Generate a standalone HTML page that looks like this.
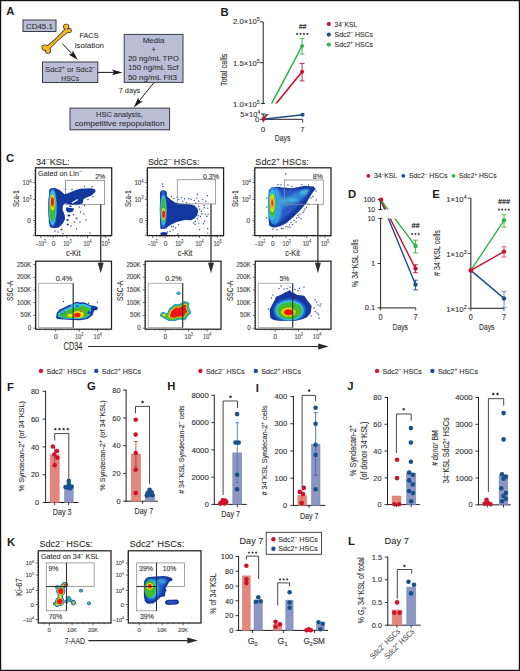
<!DOCTYPE html>
<html><head><meta charset="utf-8"><style>
html,body{margin:0;padding:0;background:#fff;}
svg{display:block;}
text{font-family:"Liberation Sans",sans-serif;}
</style></head><body>
<svg width="520" height="671" viewBox="0 0 520 671" font-family="Liberation Sans, sans-serif" fill="#231f20">
<defs><filter id="sb" x="-20%" y="-20%" width="140%" height="140%"><feGaussianBlur stdDeviation="0.9"/></filter></defs>
<rect x="0" y="0" width="520" height="671" fill="#fff"/>
<text x="6.2" y="15" font-size="11.3" font-weight="bold">A</text>
<rect x="23" y="20" width="33" height="11.5" fill="#b9bed6" stroke="#3c3c46" stroke-width="1.0" />
<text x="39.4" y="28.61" font-size="7.8" fill="#2e2e2e" stroke="#2e2e2e" stroke-width="0.08" text-anchor="middle" textLength="27" lengthAdjust="spacingAndGlyphs">CD45.1</text>
<g fill="#1d1d2b" stroke="#1d1d2b" stroke-width="1.3" stroke-linejoin="round"><path d="M47.82,50.32 Q57.3,39.52 68.82,30.92 L66.38,28.28 Q56.9,39.08 45.38,47.68 Z"/><circle cx="66.2" cy="26.7" r="2.4"/><circle cx="69.4" cy="30.5" r="1.8"/><circle cx="44.7" cy="47.6" r="2.5"/><circle cx="48.0" cy="50.7" r="2.3"/></g>
<g fill="#f6b924"><path d="M47.82,50.32 Q57.3,39.52 68.82,30.92 L66.38,28.28 Q56.9,39.08 45.38,47.68 Z"/><circle cx="66.2" cy="26.7" r="2.4"/><circle cx="69.4" cy="30.5" r="1.8"/><circle cx="44.7" cy="47.6" r="2.5"/><circle cx="48.0" cy="50.7" r="2.3"/></g>
<text x="89" y="37.88" font-size="8" fill="#2e2e2e" stroke="#2e2e2e" stroke-width="0.08" text-anchor="middle" textLength="19.2" lengthAdjust="spacingAndGlyphs">FACS</text>
<text x="89.4" y="47.88" font-size="8" fill="#2e2e2e" stroke="#2e2e2e" stroke-width="0.08" text-anchor="middle" textLength="29.2" lengthAdjust="spacingAndGlyphs">isolation</text>
<line x1="62.3" y1="43.6" x2="72.11" y2="53.91" stroke="#1a1a1a" stroke-width="1.0" />
<path d="M77.9,60 L68.56,54.39 L72.11,53.91 L72.76,50.39 Z" fill="#1a1a1a"/>
<rect x="42.5" y="62" width="55.3" height="20.5" fill="#b9bed6" stroke="#3c3c46" stroke-width="1.0" />
<text x="70.3" y="72.24" font-size="7.9" fill="#2e2e2e" stroke="#2e2e2e" stroke-width="0.08" text-anchor="middle" textLength="50" lengthAdjust="spacingAndGlyphs">Sdc2<tspan dy="-3.16" font-size="5.37" stroke-width="0.1">+</tspan><tspan dy="3.16">​</tspan> or Sdc2<tspan dy="-3.16" font-size="5.37" stroke-width="0.1">–</tspan><tspan dy="3.16">​</tspan></text>
<text x="70.2" y="80.84" font-size="7.9" fill="#2e2e2e" stroke="#2e2e2e" stroke-width="0.08" text-anchor="middle" textLength="17.7" lengthAdjust="spacingAndGlyphs">HSCs</text>
<line x1="97.8" y1="72.4" x2="114.1" y2="72.4" stroke="#1a1a1a" stroke-width="1.0" />
<path d="M122.5,72.4 L112,75.3 L114.1,72.4 L112,69.5 Z" fill="#1a1a1a"/>
<rect x="124.2" y="34.4" width="58.8" height="48" fill="#b9bed6" stroke="#3c3c46" stroke-width="1.0" />
<text x="153.5" y="43.48" font-size="8" fill="#2e2e2e" stroke="#2e2e2e" stroke-width="0.08" text-anchor="middle" textLength="21.7" lengthAdjust="spacingAndGlyphs">Media</text>
<text x="153.5" y="52.28" font-size="8" fill="#2e2e2e" stroke="#2e2e2e" stroke-width="0.08" text-anchor="middle">+</text>
<text x="153.4" y="60.88" font-size="8" fill="#2e2e2e" stroke="#2e2e2e" stroke-width="0.08" text-anchor="middle" textLength="50.9" lengthAdjust="spacingAndGlyphs">20 ng/mL TPO</text>
<text x="153.2" y="70.18" font-size="8" fill="#2e2e2e" stroke="#2e2e2e" stroke-width="0.08" text-anchor="middle" textLength="50.6" lengthAdjust="spacingAndGlyphs">150 ng/mL Scf</text>
<text x="152.4" y="79.58" font-size="8" fill="#2e2e2e" stroke="#2e2e2e" stroke-width="0.08" text-anchor="middle" textLength="49" lengthAdjust="spacingAndGlyphs">50 ng/mL Flt3</text>
<text x="129.5" y="93.04" font-size="7.9" fill="#2e2e2e" stroke="#2e2e2e" stroke-width="0.08" text-anchor="middle" textLength="21.6" lengthAdjust="spacingAndGlyphs">7 days</text>
<line x1="153.9" y1="82.7" x2="139.08" y2="101.06" stroke="#1a1a1a" stroke-width="1.0" />
<path d="M133.8,107.6 L138.14,97.61 L139.08,101.06 L142.65,101.25 Z" fill="#1a1a1a"/>
<rect x="70" y="108.1" width="99.6" height="21.7" fill="#b9bed6" stroke="#3c3c46" stroke-width="1.0" />
<text x="119.4" y="117.02" font-size="8.1" fill="#2e2e2e" stroke="#2e2e2e" stroke-width="0.08" text-anchor="middle" textLength="46.6" lengthAdjust="spacingAndGlyphs">HSC analysis,</text>
<text x="119.6" y="126.32" font-size="8.1" fill="#2e2e2e" stroke="#2e2e2e" stroke-width="0.08" text-anchor="middle" textLength="89.9" lengthAdjust="spacingAndGlyphs">competitive repopulation</text>
<text x="220.5" y="16.1" font-size="11.3" font-weight="bold">B</text>
<line x1="263.2" y1="21.9" x2="263.2" y2="103.5" stroke="#231f20" stroke-width="1.0" />
<line x1="260" y1="21.9" x2="263.2" y2="21.9" stroke="#231f20" stroke-width="0.9" />
<line x1="260" y1="62.7" x2="263.2" y2="62.7" stroke="#231f20" stroke-width="0.9" />
<line x1="261" y1="103.5" x2="265" y2="103.5" stroke="#231f20" stroke-width="0.9" />
<line x1="263.2" y1="114" x2="263.2" y2="119.3" stroke="#231f20" stroke-width="1.0" />
<line x1="261" y1="114" x2="265" y2="114" stroke="#231f20" stroke-width="0.9" />
<line x1="260" y1="119.3" x2="263.2" y2="119.3" stroke="#231f20" stroke-width="0.9" />
<line x1="263.2" y1="119.3" x2="302.6" y2="119.3" stroke="#231f20" stroke-width="1.0" />
<line x1="302.6" y1="119.3" x2="302.6" y2="122.5" stroke="#231f20" stroke-width="0.9" />
<line x1="263.2" y1="119.3" x2="263.2" y2="122.5" stroke="#231f20" stroke-width="0.9" />
<text x="259.6" y="24.14" font-size="7.6" text-anchor="end" textLength="26.6" lengthAdjust="spacingAndGlyphs" fill="#333" stroke="#333" stroke-width="0.12">2.0×10<tspan dy="-3.04" font-size="5.17" stroke-width="0.1">5</tspan><tspan dy="3.04">​</tspan></text>
<text x="259.6" y="65.64" font-size="7.6" text-anchor="end" textLength="26.6" lengthAdjust="spacingAndGlyphs" fill="#333" stroke="#333" stroke-width="0.12">1.5×10<tspan dy="-3.04" font-size="5.17" stroke-width="0.1">5</tspan><tspan dy="3.04">​</tspan></text>
<text x="259.6" y="107.04" font-size="7.6" text-anchor="end" textLength="26.6" lengthAdjust="spacingAndGlyphs" fill="#333" stroke="#333" stroke-width="0.12">1.0×10<tspan dy="-3.04" font-size="5.17" stroke-width="0.1">5</tspan><tspan dy="3.04">​</tspan></text>
<text x="260.3" y="116.54" font-size="7.6" text-anchor="end" textLength="20" lengthAdjust="spacingAndGlyphs" fill="#333" stroke="#333" stroke-width="0.12">5×10<tspan dy="-3.04" font-size="5.17" stroke-width="0.1">4</tspan><tspan dy="3.04">​</tspan></text>
<text x="259.2" y="122.04" font-size="7.6" text-anchor="end" fill="#333" stroke="#333" stroke-width="0.12">0</text>
<text x="263.2" y="131.94" font-size="7.6" text-anchor="middle" fill="#333" stroke="#333" stroke-width="0.12">0</text>
<text x="302.3" y="131.94" font-size="7.6" text-anchor="middle" fill="#333" stroke="#333" stroke-width="0.12">7</text>
<text x="282.6" y="141.11" font-size="9.2" text-anchor="middle" textLength="15.6" lengthAdjust="spacingAndGlyphs" fill="#333" stroke="#333" stroke-width="0.12">Days</text>
<text x="69.9" y="0" font-size="9.5" text-anchor="middle" textLength="32.3" lengthAdjust="spacingAndGlyphs" fill="#333" stroke="#333" stroke-width="0.12" transform="translate(227.02 69.9) rotate(-90) translate(-69.9 0)">Total cells</text>
<clipPath id="cbU"><rect x="263" y="10" width="60" height="93.5"/></clipPath>
<clipPath id="cbL"><rect x="263" y="114" width="60" height="8"/></clipPath>
<g clip-path="url(#cbU)" stroke-width="1.6" fill="none"><line x1="263.3" y1="119.3" x2="302.1" y2="46" stroke="#2fb543"/><line x1="263.3" y1="119.3" x2="302.1" y2="71.8" stroke="#c8102e"/></g>
<g clip-path="url(#cbL)" stroke-width="1.6" fill="none"><line x1="263.3" y1="119.3" x2="302.1" y2="46" stroke="#2fb543"/><line x1="263.3" y1="119.3" x2="302.1" y2="71.8" stroke="#c8102e"/></g>
<line x1="263.3" y1="119.3" x2="302.6" y2="114.7" stroke="#1a4f8b" stroke-width="1.6" />
<line x1="302.1" y1="38.4" x2="302.1" y2="54" stroke="#3cb64a" stroke-width="0.9" />
<line x1="299.7" y1="38.4" x2="304.5" y2="38.4" stroke="#3cb64a" stroke-width="0.9" />
<line x1="299.7" y1="54" x2="304.5" y2="54" stroke="#3cb64a" stroke-width="0.9" />
<line x1="302.1" y1="63.4" x2="302.1" y2="80.9" stroke="#c8102e" stroke-width="0.9" />
<line x1="299.7" y1="63.4" x2="304.5" y2="63.4" stroke="#c8102e" stroke-width="0.9" />
<line x1="299.7" y1="80.9" x2="304.5" y2="80.9" stroke="#c8102e" stroke-width="0.9" />
<circle cx="302.1" cy="46" r="2" fill="#2fb543"/>
<circle cx="302.1" cy="71.8" r="2" fill="#c8102e"/>
<circle cx="302.6" cy="114.7" r="2" fill="#1a4f8b"/>
<circle cx="263.5" cy="119" r="2" fill="#c8102e"/>
<text x="302.5" y="28.6" font-size="6.8" font-style="italic" text-anchor="middle" textLength="7.6" lengthAdjust="spacingAndGlyphs" fill="#333" stroke="#333" stroke-width="0.2">##</text>
<path d="M297.19,32.54 L297.61,33.37 L298.53,33.51 L297.86,34.16 L298.02,35.07 L297.19,34.64 L296.37,35.07 L296.53,34.16 L295.86,33.51 L296.78,33.37 Z" fill="#2a2a2a"/>
<path d="M300.56,32.54 L300.98,33.37 L301.9,33.51 L301.23,34.16 L301.39,35.07 L300.56,34.64 L299.74,35.07 L299.9,34.16 L299.23,33.51 L300.15,33.37 Z" fill="#2a2a2a"/>
<path d="M303.94,32.54 L304.35,33.37 L305.27,33.51 L304.6,34.16 L304.76,35.07 L303.94,34.64 L303.11,35.07 L303.27,34.16 L302.6,33.51 L303.52,33.37 Z" fill="#2a2a2a"/>
<path d="M307.31,32.54 L307.72,33.37 L308.64,33.51 L307.97,34.16 L308.13,35.07 L307.31,34.64 L306.48,35.07 L306.64,34.16 L305.97,33.51 L306.89,33.37 Z" fill="#2a2a2a"/>
<circle cx="328.8" cy="24" r="2.1" fill="#c8102e"/>
<text x="334.6" y="26.59" font-size="7.2" textLength="22.6" lengthAdjust="spacingAndGlyphs" fill="#333" stroke="#333" stroke-width="0.12">34<tspan dy="-2.88" font-size="4.9" stroke-width="0.1">–</tspan><tspan dy="2.88">​</tspan>KSL</text>
<circle cx="328.8" cy="34.6" r="2.1" fill="#1a4f8b"/>
<text x="334.6" y="37.19" font-size="7.2" textLength="38.5" lengthAdjust="spacingAndGlyphs" fill="#333" stroke="#333" stroke-width="0.12">Sdc2<tspan dy="-2.88" font-size="4.9" stroke-width="0.1">–</tspan><tspan dy="2.88">​</tspan> HSCs</text>
<circle cx="328.8" cy="44.6" r="2.1" fill="#3cb64a"/>
<text x="334.6" y="47.19" font-size="7.2" textLength="38.5" lengthAdjust="spacingAndGlyphs" fill="#333" stroke="#333" stroke-width="0.12">Sdc2<tspan dy="-2.88" font-size="4.9" stroke-width="0.1">+</tspan><tspan dy="2.88">​</tspan> HSCs</text>
<text x="6.1" y="162.4" font-size="11.3" font-weight="bold">C</text>
<text x="36" y="164.54" font-size="9" textLength="33.6" lengthAdjust="spacingAndGlyphs" stroke="#231f20" stroke-width="0.05">34<tspan dy="-3.6" font-size="6.12" stroke-width="0.1">–</tspan><tspan dy="3.6">​</tspan>KSL:</text>
<line x1="33.1" y1="182.6" x2="35.5" y2="182.6" stroke="#231f20" stroke-width="0.7" />
<line x1="33.1" y1="199.4" x2="35.5" y2="199.4" stroke="#231f20" stroke-width="0.7" />
<line x1="33.1" y1="220.6" x2="35.5" y2="220.6" stroke="#231f20" stroke-width="0.7" />
<line x1="33.1" y1="235.2" x2="35.5" y2="235.2" stroke="#231f20" stroke-width="0.7" />
<line x1="34.1" y1="170.5" x2="35.5" y2="170.5" stroke="#231f20" stroke-width="0.5" />
<line x1="34.1" y1="173.5" x2="35.5" y2="173.5" stroke="#231f20" stroke-width="0.5" />
<line x1="34.1" y1="176" x2="35.5" y2="176" stroke="#231f20" stroke-width="0.5" />
<line x1="34.1" y1="178.2" x2="35.5" y2="178.2" stroke="#231f20" stroke-width="0.5" />
<line x1="34.1" y1="180.5" x2="35.5" y2="180.5" stroke="#231f20" stroke-width="0.5" />
<line x1="34.1" y1="187.5" x2="35.5" y2="187.5" stroke="#231f20" stroke-width="0.5" />
<line x1="34.1" y1="190.5" x2="35.5" y2="190.5" stroke="#231f20" stroke-width="0.5" />
<line x1="34.1" y1="193" x2="35.5" y2="193" stroke="#231f20" stroke-width="0.5" />
<line x1="34.1" y1="195.2" x2="35.5" y2="195.2" stroke="#231f20" stroke-width="0.5" />
<line x1="34.1" y1="197.4" x2="35.5" y2="197.4" stroke="#231f20" stroke-width="0.5" />
<line x1="34.1" y1="205" x2="35.5" y2="205" stroke="#231f20" stroke-width="0.5" />
<line x1="34.1" y1="209" x2="35.5" y2="209" stroke="#231f20" stroke-width="0.5" />
<line x1="34.1" y1="212.5" x2="35.5" y2="212.5" stroke="#231f20" stroke-width="0.5" />
<line x1="34.1" y1="216" x2="35.5" y2="216" stroke="#231f20" stroke-width="0.5" />
<line x1="34.1" y1="218.5" x2="35.5" y2="218.5" stroke="#231f20" stroke-width="0.5" />
<line x1="34.1" y1="222.5" x2="35.5" y2="222.5" stroke="#231f20" stroke-width="0.5" />
<line x1="34.1" y1="224.5" x2="35.5" y2="224.5" stroke="#231f20" stroke-width="0.5" />
<line x1="34.1" y1="227" x2="35.5" y2="227" stroke="#231f20" stroke-width="0.5" />
<line x1="34.1" y1="230" x2="35.5" y2="230" stroke="#231f20" stroke-width="0.5" />
<line x1="34.1" y1="232.5" x2="35.5" y2="232.5" stroke="#231f20" stroke-width="0.5" />
<text x="31.6" y="185.48" font-size="6.6" text-anchor="end" textLength="9" lengthAdjust="spacingAndGlyphs" fill="#444" stroke="#444" stroke-width="0.12">10<tspan dy="-2.64" font-size="4.49" stroke-width="0.1">4</tspan><tspan dy="2.64">​</tspan></text>
<text x="31.6" y="201.98" font-size="6.6" text-anchor="end" textLength="9" lengthAdjust="spacingAndGlyphs" fill="#444" stroke="#444" stroke-width="0.12">10<tspan dy="-2.64" font-size="4.49" stroke-width="0.1">3</tspan><tspan dy="2.64">​</tspan></text>
<text x="30.9" y="223.18" font-size="6.6" text-anchor="end" fill="#444" stroke="#444" stroke-width="0.12">0</text>
<text x="198.6" y="0" font-size="9.6" text-anchor="middle" textLength="16.8" lengthAdjust="spacingAndGlyphs" fill="#333" stroke="#333" stroke-width="0.1" transform="translate(18.76 198.6) rotate(-90) translate(-198.6 0)">Sca-1</text>
<line x1="40.8" y1="235.6" x2="40.8" y2="238" stroke="#231f20" stroke-width="0.7" />
<line x1="53.3" y1="235.6" x2="53.3" y2="238" stroke="#231f20" stroke-width="0.7" />
<line x1="66.8" y1="235.6" x2="66.8" y2="238" stroke="#231f20" stroke-width="0.7" />
<line x1="87.5" y1="235.6" x2="87.5" y2="238" stroke="#231f20" stroke-width="0.7" />
<line x1="105.8" y1="235.6" x2="105.8" y2="238" stroke="#231f20" stroke-width="0.7" />
<line x1="44.5" y1="235.6" x2="44.5" y2="237" stroke="#231f20" stroke-width="0.5" />
<line x1="47" y1="235.6" x2="47" y2="237" stroke="#231f20" stroke-width="0.5" />
<line x1="49" y1="235.6" x2="49" y2="237" stroke="#231f20" stroke-width="0.5" />
<line x1="51" y1="235.6" x2="51" y2="237" stroke="#231f20" stroke-width="0.5" />
<line x1="55.5" y1="235.6" x2="55.5" y2="237" stroke="#231f20" stroke-width="0.5" />
<line x1="57.5" y1="235.6" x2="57.5" y2="237" stroke="#231f20" stroke-width="0.5" />
<line x1="60" y1="235.6" x2="60" y2="237" stroke="#231f20" stroke-width="0.5" />
<line x1="62.5" y1="235.6" x2="62.5" y2="237" stroke="#231f20" stroke-width="0.5" />
<line x1="73.5" y1="235.6" x2="73.5" y2="237" stroke="#231f20" stroke-width="0.5" />
<line x1="77.5" y1="235.6" x2="77.5" y2="237" stroke="#231f20" stroke-width="0.5" />
<line x1="80.5" y1="235.6" x2="80.5" y2="237" stroke="#231f20" stroke-width="0.5" />
<line x1="83" y1="235.6" x2="83" y2="237" stroke="#231f20" stroke-width="0.5" />
<line x1="85" y1="235.6" x2="85" y2="237" stroke="#231f20" stroke-width="0.5" />
<line x1="94" y1="235.6" x2="94" y2="237" stroke="#231f20" stroke-width="0.5" />
<line x1="98" y1="235.6" x2="98" y2="237" stroke="#231f20" stroke-width="0.5" />
<line x1="101" y1="235.6" x2="101" y2="237" stroke="#231f20" stroke-width="0.5" />
<line x1="103" y1="235.6" x2="103" y2="237" stroke="#231f20" stroke-width="0.5" />
<line x1="104.5" y1="235.6" x2="104.5" y2="237" stroke="#231f20" stroke-width="0.5" />
<line x1="108.5" y1="235.6" x2="108.5" y2="237" stroke="#231f20" stroke-width="0.5" />
<line x1="110.5" y1="235.6" x2="110.5" y2="237" stroke="#231f20" stroke-width="0.5" />
<text x="40.8" y="245.74" font-size="6.5" text-anchor="middle" textLength="10" lengthAdjust="spacingAndGlyphs" fill="#444" stroke="#444" stroke-width="0.12">–10<tspan dy="-2.6" font-size="4.42" stroke-width="0.1">3</tspan><tspan dy="2.6">​</tspan></text>
<text x="53.6" y="245.74" font-size="6.5" text-anchor="middle" fill="#444" stroke="#444" stroke-width="0.12">0</text>
<text x="67.4" y="245.74" font-size="6.5" text-anchor="middle" textLength="8.2" lengthAdjust="spacingAndGlyphs" fill="#444" stroke="#444" stroke-width="0.12">10<tspan dy="-2.6" font-size="4.42" stroke-width="0.1">3</tspan><tspan dy="2.6">​</tspan></text>
<text x="87.6" y="245.74" font-size="6.5" text-anchor="middle" textLength="8.2" lengthAdjust="spacingAndGlyphs" fill="#444" stroke="#444" stroke-width="0.12">10<tspan dy="-2.6" font-size="4.42" stroke-width="0.1">4</tspan><tspan dy="2.6">​</tspan></text>
<text x="105.7" y="245.74" font-size="6.5" text-anchor="middle" textLength="8.2" lengthAdjust="spacingAndGlyphs" fill="#444" stroke="#444" stroke-width="0.12">10<tspan dy="-2.6" font-size="4.42" stroke-width="0.1">5</tspan><tspan dy="2.6">​</tspan></text>
<text x="73.2" y="256.38" font-size="9.4" text-anchor="middle" textLength="14.6" lengthAdjust="spacingAndGlyphs" fill="#333" stroke="#333" stroke-width="0.12">c-Kit</text>
<text x="38" y="175.63" font-size="7.3" textLength="43.6" lengthAdjust="spacingAndGlyphs" fill="#3a3a3a" stroke="#3a3a3a" stroke-width="0.12">Gated on Lin<tspan dy="-2.92" font-size="4.96" stroke-width="0.1">–</tspan><tspan dy="2.92">​</tspan></text>
<rect x="65.6" y="180.5" width="39" height="24" fill="none" stroke="#8a8a8a" stroke-width="0.8" />
<path d="M49.2,190 C49.5,187.6 55,187.2 57.5,189 L60.5,190.8 L64.5,194.2 L68,193.2 L72,191.6 L76,190 L80,188.8 L85,188.4 L91.5,188.2 L95.6,189.8 L95.3,192 L91.5,195.6 L86.5,197.5 L83.6,199 L82.6,203.6 L76.7,204.7 L70,204.4 L65.1,203.3 L63,205.5 L62.5,209.4 L64.6,214.7 L65.1,219 L63,223.2 L58.8,227.4 L54,228.3 L50,227.2 L48.8,222 L48.7,200 Z" fill="#13379f"/>
<path d="M66.2,207.3 L74.1,208.6 L72.5,212 L67.8,212.4 L65.8,210 Z" fill="#13379f"/>
<path d="M71.5,202.6 L77.3,198.9 L78,200 L72.5,203.5 Z" fill="#fff"/>
<ellipse cx="69" cy="215.5" rx="1.6" ry="1" fill="#13379f"/>
<ellipse cx="67.5" cy="220" rx="1.2" ry="1" fill="#13379f"/>
<ellipse cx="67.8" cy="224.5" rx="1.1" ry="0.9" fill="#13379f"/>
<ellipse cx="61.5" cy="229.5" rx="1.2" ry="0.8" fill="#13379f"/>
<ellipse cx="70.5" cy="206.3" rx="1.5" ry="0.7" fill="#13379f"/>
<circle cx="58" cy="232" r="0.7" fill="#2440a0"/>
<circle cx="63" cy="233.5" r="0.7" fill="#2440a0"/>
<circle cx="73.5" cy="214.5" r="0.7" fill="#2440a0"/>
<circle cx="76" cy="218" r="0.7" fill="#2440a0"/>
<circle cx="80" cy="222" r="0.7" fill="#2440a0"/>
<circle cx="84" cy="214" r="0.7" fill="#2440a0"/>
<circle cx="86" cy="220" r="0.7" fill="#2440a0"/>
<circle cx="80.5" cy="212" r="0.7" fill="#2440a0"/>
<circle cx="90" cy="233" r="0.7" fill="#2440a0"/>
<circle cx="72" cy="189.5" r="0.7" fill="#2440a0"/>
<circle cx="65.5" cy="189" r="0.7" fill="#2440a0"/>
<circle cx="84.5" cy="186.5" r="0.7" fill="#2440a0"/>
<circle cx="92" cy="186.5" r="0.7" fill="#2440a0"/>
<circle cx="77" cy="218.5" r="0.7" fill="#2440a0"/>
<circle cx="74.5" cy="222" r="0.7" fill="#2440a0"/>
<circle cx="88" cy="199.5" r="0.7" fill="#2440a0"/>
<circle cx="93" cy="196.5" r="0.7" fill="#2440a0"/>
<circle cx="79.5" cy="207" r="0.7" fill="#2440a0"/>
<circle cx="84.5" cy="205.5" r="0.7" fill="#2440a0"/>
<circle cx="71" cy="226" r="0.7" fill="#2440a0"/>
<circle cx="76.5" cy="229" r="0.7" fill="#2440a0"/>
<circle cx="55" cy="231" r="0.7" fill="#2440a0"/>
<circle cx="52.5" cy="173" r="0.7" fill="#2440a0"/>
<ellipse cx="52.6" cy="207.5" rx="4.6" ry="19.6" fill="#1f60d4"/>
<ellipse cx="52.6" cy="207.5" rx="3.9" ry="17.6" fill="#2ec4ee"/>
<ellipse cx="52.5" cy="208" rx="3" ry="14" fill="#45bb2c"/>
<ellipse cx="52.5" cy="202.5" rx="2.3" ry="8" fill="#f3e300"/>
<ellipse cx="52.5" cy="202" rx="1.8" ry="6" fill="#f89a10"/>
<ellipse cx="52.4" cy="201.8" rx="1.4" ry="4.3" fill="#f01414"/>
<text x="100.2" y="178.79" font-size="7.2" text-anchor="middle" textLength="10" lengthAdjust="spacingAndGlyphs" fill="#333" stroke="#333" stroke-width="0.12">2%</text>
<rect x="35.5" y="167.8" width="76.2" height="67.8" fill="none" stroke="#231f20" stroke-width="1.25" />
<text x="147.9" y="164.54" font-size="9" textLength="51.5" lengthAdjust="spacingAndGlyphs" stroke="#231f20" stroke-width="0.05">Sdc2<tspan dy="-3.6" font-size="6.12" stroke-width="0.1">–</tspan><tspan dy="3.6">​</tspan> HSCs:</text>
<line x1="145" y1="182.6" x2="147.4" y2="182.6" stroke="#231f20" stroke-width="0.7" />
<line x1="145" y1="199.4" x2="147.4" y2="199.4" stroke="#231f20" stroke-width="0.7" />
<line x1="145" y1="220.6" x2="147.4" y2="220.6" stroke="#231f20" stroke-width="0.7" />
<line x1="145" y1="235.2" x2="147.4" y2="235.2" stroke="#231f20" stroke-width="0.7" />
<line x1="146" y1="170.5" x2="147.4" y2="170.5" stroke="#231f20" stroke-width="0.5" />
<line x1="146" y1="173.5" x2="147.4" y2="173.5" stroke="#231f20" stroke-width="0.5" />
<line x1="146" y1="176" x2="147.4" y2="176" stroke="#231f20" stroke-width="0.5" />
<line x1="146" y1="178.2" x2="147.4" y2="178.2" stroke="#231f20" stroke-width="0.5" />
<line x1="146" y1="180.5" x2="147.4" y2="180.5" stroke="#231f20" stroke-width="0.5" />
<line x1="146" y1="187.5" x2="147.4" y2="187.5" stroke="#231f20" stroke-width="0.5" />
<line x1="146" y1="190.5" x2="147.4" y2="190.5" stroke="#231f20" stroke-width="0.5" />
<line x1="146" y1="193" x2="147.4" y2="193" stroke="#231f20" stroke-width="0.5" />
<line x1="146" y1="195.2" x2="147.4" y2="195.2" stroke="#231f20" stroke-width="0.5" />
<line x1="146" y1="197.4" x2="147.4" y2="197.4" stroke="#231f20" stroke-width="0.5" />
<line x1="146" y1="205" x2="147.4" y2="205" stroke="#231f20" stroke-width="0.5" />
<line x1="146" y1="209" x2="147.4" y2="209" stroke="#231f20" stroke-width="0.5" />
<line x1="146" y1="212.5" x2="147.4" y2="212.5" stroke="#231f20" stroke-width="0.5" />
<line x1="146" y1="216" x2="147.4" y2="216" stroke="#231f20" stroke-width="0.5" />
<line x1="146" y1="218.5" x2="147.4" y2="218.5" stroke="#231f20" stroke-width="0.5" />
<line x1="146" y1="222.5" x2="147.4" y2="222.5" stroke="#231f20" stroke-width="0.5" />
<line x1="146" y1="224.5" x2="147.4" y2="224.5" stroke="#231f20" stroke-width="0.5" />
<line x1="146" y1="227" x2="147.4" y2="227" stroke="#231f20" stroke-width="0.5" />
<line x1="146" y1="230" x2="147.4" y2="230" stroke="#231f20" stroke-width="0.5" />
<line x1="146" y1="232.5" x2="147.4" y2="232.5" stroke="#231f20" stroke-width="0.5" />
<text x="143.5" y="185.48" font-size="6.6" text-anchor="end" textLength="9" lengthAdjust="spacingAndGlyphs" fill="#444" stroke="#444" stroke-width="0.12">10<tspan dy="-2.64" font-size="4.49" stroke-width="0.1">4</tspan><tspan dy="2.64">​</tspan></text>
<text x="143.5" y="201.98" font-size="6.6" text-anchor="end" textLength="9" lengthAdjust="spacingAndGlyphs" fill="#444" stroke="#444" stroke-width="0.12">10<tspan dy="-2.64" font-size="4.49" stroke-width="0.1">3</tspan><tspan dy="2.64">​</tspan></text>
<text x="142.8" y="223.18" font-size="6.6" text-anchor="end" fill="#444" stroke="#444" stroke-width="0.12">0</text>
<text x="198.6" y="0" font-size="9.6" text-anchor="middle" textLength="16.8" lengthAdjust="spacingAndGlyphs" fill="#333" stroke="#333" stroke-width="0.1" transform="translate(130.66 198.6) rotate(-90) translate(-198.6 0)">Sca-1</text>
<line x1="152.7" y1="235.6" x2="152.7" y2="238" stroke="#231f20" stroke-width="0.7" />
<line x1="165.2" y1="235.6" x2="165.2" y2="238" stroke="#231f20" stroke-width="0.7" />
<line x1="178.7" y1="235.6" x2="178.7" y2="238" stroke="#231f20" stroke-width="0.7" />
<line x1="199.4" y1="235.6" x2="199.4" y2="238" stroke="#231f20" stroke-width="0.7" />
<line x1="217.7" y1="235.6" x2="217.7" y2="238" stroke="#231f20" stroke-width="0.7" />
<line x1="156.4" y1="235.6" x2="156.4" y2="237" stroke="#231f20" stroke-width="0.5" />
<line x1="158.9" y1="235.6" x2="158.9" y2="237" stroke="#231f20" stroke-width="0.5" />
<line x1="160.9" y1="235.6" x2="160.9" y2="237" stroke="#231f20" stroke-width="0.5" />
<line x1="162.9" y1="235.6" x2="162.9" y2="237" stroke="#231f20" stroke-width="0.5" />
<line x1="167.4" y1="235.6" x2="167.4" y2="237" stroke="#231f20" stroke-width="0.5" />
<line x1="169.4" y1="235.6" x2="169.4" y2="237" stroke="#231f20" stroke-width="0.5" />
<line x1="171.9" y1="235.6" x2="171.9" y2="237" stroke="#231f20" stroke-width="0.5" />
<line x1="174.4" y1="235.6" x2="174.4" y2="237" stroke="#231f20" stroke-width="0.5" />
<line x1="185.4" y1="235.6" x2="185.4" y2="237" stroke="#231f20" stroke-width="0.5" />
<line x1="189.4" y1="235.6" x2="189.4" y2="237" stroke="#231f20" stroke-width="0.5" />
<line x1="192.4" y1="235.6" x2="192.4" y2="237" stroke="#231f20" stroke-width="0.5" />
<line x1="194.9" y1="235.6" x2="194.9" y2="237" stroke="#231f20" stroke-width="0.5" />
<line x1="196.9" y1="235.6" x2="196.9" y2="237" stroke="#231f20" stroke-width="0.5" />
<line x1="205.9" y1="235.6" x2="205.9" y2="237" stroke="#231f20" stroke-width="0.5" />
<line x1="209.9" y1="235.6" x2="209.9" y2="237" stroke="#231f20" stroke-width="0.5" />
<line x1="212.9" y1="235.6" x2="212.9" y2="237" stroke="#231f20" stroke-width="0.5" />
<line x1="214.9" y1="235.6" x2="214.9" y2="237" stroke="#231f20" stroke-width="0.5" />
<line x1="216.4" y1="235.6" x2="216.4" y2="237" stroke="#231f20" stroke-width="0.5" />
<line x1="220.4" y1="235.6" x2="220.4" y2="237" stroke="#231f20" stroke-width="0.5" />
<line x1="222.4" y1="235.6" x2="222.4" y2="237" stroke="#231f20" stroke-width="0.5" />
<text x="152.7" y="245.74" font-size="6.5" text-anchor="middle" textLength="10" lengthAdjust="spacingAndGlyphs" fill="#444" stroke="#444" stroke-width="0.12">–10<tspan dy="-2.6" font-size="4.42" stroke-width="0.1">3</tspan><tspan dy="2.6">​</tspan></text>
<text x="165.5" y="245.74" font-size="6.5" text-anchor="middle" fill="#444" stroke="#444" stroke-width="0.12">0</text>
<text x="179.3" y="245.74" font-size="6.5" text-anchor="middle" textLength="8.2" lengthAdjust="spacingAndGlyphs" fill="#444" stroke="#444" stroke-width="0.12">10<tspan dy="-2.6" font-size="4.42" stroke-width="0.1">3</tspan><tspan dy="2.6">​</tspan></text>
<text x="199.5" y="245.74" font-size="6.5" text-anchor="middle" textLength="8.2" lengthAdjust="spacingAndGlyphs" fill="#444" stroke="#444" stroke-width="0.12">10<tspan dy="-2.6" font-size="4.42" stroke-width="0.1">4</tspan><tspan dy="2.6">​</tspan></text>
<text x="217.6" y="245.74" font-size="6.5" text-anchor="middle" textLength="8.2" lengthAdjust="spacingAndGlyphs" fill="#444" stroke="#444" stroke-width="0.12">10<tspan dy="-2.6" font-size="4.42" stroke-width="0.1">5</tspan><tspan dy="2.6">​</tspan></text>
<text x="185.1" y="256.38" font-size="9.4" text-anchor="middle" textLength="14.6" lengthAdjust="spacingAndGlyphs" fill="#333" stroke="#333" stroke-width="0.12">c-Kit</text>
<path d="M160,193 C160.2,189.4 166.6,189.4 166.9,193 L166.9,196.2 L170.6,199.5 L175.1,202.5 L179.6,203.6 L185,204 L190,204.2 L194.5,205.5 L197.5,208.5 L198.2,212 L197,215.5 L194.5,218.5 L191,220.3 L185,220 L176.6,221.9 L171.4,224.5 L167.7,226.7 L166.5,228.6 L160.5,228.9 L160,222 Z" fill="#13379f"/>
<ellipse cx="163.9" cy="233.9" rx="3.6" ry="1.9" fill="#13379f"/>
<circle cx="162.5" cy="184" r="0.7" fill="#2440a0"/>
<circle cx="162.8" cy="186.5" r="0.7" fill="#2440a0"/>
<circle cx="197.3" cy="194.2" r="0.7" fill="#2440a0"/>
<circle cx="207.3" cy="195.8" r="0.7" fill="#2440a0"/>
<circle cx="196.9" cy="198.1" r="0.7" fill="#2440a0"/>
<circle cx="202.7" cy="199.6" r="0.7" fill="#2440a0"/>
<circle cx="205.8" cy="201.2" r="0.7" fill="#2440a0"/>
<circle cx="198.8" cy="201.2" r="0.7" fill="#2440a0"/>
<circle cx="194.2" cy="200.4" r="0.7" fill="#2440a0"/>
<circle cx="195.8" cy="203.1" r="0.7" fill="#2440a0"/>
<circle cx="188.8" cy="198.8" r="0.7" fill="#2440a0"/>
<circle cx="191.2" cy="199.2" r="0.7" fill="#2440a0"/>
<circle cx="184.6" cy="198.8" r="0.7" fill="#2440a0"/>
<circle cx="181.2" cy="197.7" r="0.7" fill="#2440a0"/>
<circle cx="178.8" cy="199.6" r="0.7" fill="#2440a0"/>
<circle cx="182.7" cy="201.2" r="0.7" fill="#2440a0"/>
<circle cx="186.5" cy="202.7" r="0.7" fill="#2440a0"/>
<circle cx="177.3" cy="197.3" r="0.7" fill="#2440a0"/>
<circle cx="171.5" cy="196.5" r="0.7" fill="#2440a0"/>
<circle cx="174" cy="198.5" r="0.7" fill="#2440a0"/>
<circle cx="198.8" cy="206.5" r="0.7" fill="#2440a0"/>
<circle cx="199.6" cy="209.2" r="0.7" fill="#2440a0"/>
<circle cx="201.5" cy="211.2" r="0.7" fill="#2440a0"/>
<circle cx="201.9" cy="213.8" r="0.7" fill="#2440a0"/>
<circle cx="204.2" cy="205.4" r="0.7" fill="#2440a0"/>
<circle cx="204.2" cy="207.7" r="0.7" fill="#2440a0"/>
<circle cx="207.7" cy="208.1" r="0.7" fill="#2440a0"/>
<circle cx="205.4" cy="214.1" r="0.7" fill="#2440a0"/>
<circle cx="208.1" cy="214.1" r="0.7" fill="#2440a0"/>
<circle cx="206.9" cy="216.2" r="0.7" fill="#2440a0"/>
<circle cx="198.1" cy="215.8" r="0.7" fill="#2440a0"/>
<circle cx="200.4" cy="216.5" r="0.7" fill="#2440a0"/>
<circle cx="197.3" cy="218.8" r="0.7" fill="#2440a0"/>
<circle cx="195.4" cy="221.2" r="0.7" fill="#2440a0"/>
<circle cx="193.8" cy="222.7" r="0.7" fill="#2440a0"/>
<circle cx="204.6" cy="221.2" r="0.7" fill="#2440a0"/>
<circle cx="198.8" cy="223.1" r="0.7" fill="#2440a0"/>
<circle cx="203.5" cy="223.8" r="0.7" fill="#2440a0"/>
<circle cx="195" cy="224.2" r="0.7" fill="#2440a0"/>
<circle cx="178.5" cy="224.6" r="0.7" fill="#2440a0"/>
<circle cx="199.6" cy="229.6" r="0.7" fill="#2440a0"/>
<circle cx="207.7" cy="228.5" r="0.7" fill="#2440a0"/>
<circle cx="207.7" cy="233.1" r="0.7" fill="#2440a0"/>
<circle cx="171.5" cy="226.8" r="0.7" fill="#2440a0"/>
<circle cx="173.5" cy="226.5" r="0.7" fill="#2440a0"/>
<circle cx="175.5" cy="228" r="0.7" fill="#2440a0"/>
<circle cx="173" cy="230" r="0.7" fill="#2440a0"/>
<circle cx="170" cy="231.5" r="0.7" fill="#2440a0"/>
<circle cx="167.5" cy="232" r="0.7" fill="#2440a0"/>
<circle cx="178" cy="234" r="0.7" fill="#2440a0"/>
<ellipse cx="163.4" cy="210" rx="3.7" ry="19" fill="#1f60d4"/>
<ellipse cx="163.4" cy="210.3" rx="3" ry="15" fill="#2ec4ee"/>
<ellipse cx="163.4" cy="210" rx="2.1" ry="13" fill="#45bb2c"/>
<ellipse cx="163.6" cy="213.9" rx="1.9" ry="6.2" fill="#f3e300"/>
<ellipse cx="163.7" cy="214.2" rx="1.6" ry="4.6" fill="#f89a10"/>
<ellipse cx="163.7" cy="214.3" rx="1.4" ry="3.6" fill="#f01414"/>
<rect x="177.3" y="179.7" width="38.3" height="24.2" fill="none" stroke="#8a8a8a" stroke-width="0.8" />
<text x="211" y="178.79" font-size="7.2" text-anchor="middle" textLength="16" lengthAdjust="spacingAndGlyphs" fill="#333" stroke="#333" stroke-width="0.12">0.3%</text>
<rect x="147.4" y="167.8" width="76.2" height="67.8" fill="none" stroke="#231f20" stroke-width="1.25" />
<text x="255.3" y="164.54" font-size="9" textLength="53.5" lengthAdjust="spacingAndGlyphs" stroke="#231f20" stroke-width="0.05">Sdc2<tspan dy="-3.6" font-size="6.12" stroke-width="0.1">+</tspan><tspan dy="3.6">​</tspan> HSCs:</text>
<line x1="252.4" y1="182.6" x2="254.8" y2="182.6" stroke="#231f20" stroke-width="0.7" />
<line x1="252.4" y1="199.4" x2="254.8" y2="199.4" stroke="#231f20" stroke-width="0.7" />
<line x1="252.4" y1="220.6" x2="254.8" y2="220.6" stroke="#231f20" stroke-width="0.7" />
<line x1="252.4" y1="235.2" x2="254.8" y2="235.2" stroke="#231f20" stroke-width="0.7" />
<line x1="253.4" y1="170.5" x2="254.8" y2="170.5" stroke="#231f20" stroke-width="0.5" />
<line x1="253.4" y1="173.5" x2="254.8" y2="173.5" stroke="#231f20" stroke-width="0.5" />
<line x1="253.4" y1="176" x2="254.8" y2="176" stroke="#231f20" stroke-width="0.5" />
<line x1="253.4" y1="178.2" x2="254.8" y2="178.2" stroke="#231f20" stroke-width="0.5" />
<line x1="253.4" y1="180.5" x2="254.8" y2="180.5" stroke="#231f20" stroke-width="0.5" />
<line x1="253.4" y1="187.5" x2="254.8" y2="187.5" stroke="#231f20" stroke-width="0.5" />
<line x1="253.4" y1="190.5" x2="254.8" y2="190.5" stroke="#231f20" stroke-width="0.5" />
<line x1="253.4" y1="193" x2="254.8" y2="193" stroke="#231f20" stroke-width="0.5" />
<line x1="253.4" y1="195.2" x2="254.8" y2="195.2" stroke="#231f20" stroke-width="0.5" />
<line x1="253.4" y1="197.4" x2="254.8" y2="197.4" stroke="#231f20" stroke-width="0.5" />
<line x1="253.4" y1="205" x2="254.8" y2="205" stroke="#231f20" stroke-width="0.5" />
<line x1="253.4" y1="209" x2="254.8" y2="209" stroke="#231f20" stroke-width="0.5" />
<line x1="253.4" y1="212.5" x2="254.8" y2="212.5" stroke="#231f20" stroke-width="0.5" />
<line x1="253.4" y1="216" x2="254.8" y2="216" stroke="#231f20" stroke-width="0.5" />
<line x1="253.4" y1="218.5" x2="254.8" y2="218.5" stroke="#231f20" stroke-width="0.5" />
<line x1="253.4" y1="222.5" x2="254.8" y2="222.5" stroke="#231f20" stroke-width="0.5" />
<line x1="253.4" y1="224.5" x2="254.8" y2="224.5" stroke="#231f20" stroke-width="0.5" />
<line x1="253.4" y1="227" x2="254.8" y2="227" stroke="#231f20" stroke-width="0.5" />
<line x1="253.4" y1="230" x2="254.8" y2="230" stroke="#231f20" stroke-width="0.5" />
<line x1="253.4" y1="232.5" x2="254.8" y2="232.5" stroke="#231f20" stroke-width="0.5" />
<text x="250.9" y="185.48" font-size="6.6" text-anchor="end" textLength="9" lengthAdjust="spacingAndGlyphs" fill="#444" stroke="#444" stroke-width="0.12">10<tspan dy="-2.64" font-size="4.49" stroke-width="0.1">4</tspan><tspan dy="2.64">​</tspan></text>
<text x="250.9" y="201.98" font-size="6.6" text-anchor="end" textLength="9" lengthAdjust="spacingAndGlyphs" fill="#444" stroke="#444" stroke-width="0.12">10<tspan dy="-2.64" font-size="4.49" stroke-width="0.1">3</tspan><tspan dy="2.64">​</tspan></text>
<text x="250.2" y="223.18" font-size="6.6" text-anchor="end" fill="#444" stroke="#444" stroke-width="0.12">0</text>
<text x="198.6" y="0" font-size="9.6" text-anchor="middle" textLength="16.8" lengthAdjust="spacingAndGlyphs" fill="#333" stroke="#333" stroke-width="0.1" transform="translate(238.06 198.6) rotate(-90) translate(-198.6 0)">Sca-1</text>
<line x1="260.1" y1="235.6" x2="260.1" y2="238" stroke="#231f20" stroke-width="0.7" />
<line x1="272.6" y1="235.6" x2="272.6" y2="238" stroke="#231f20" stroke-width="0.7" />
<line x1="286.1" y1="235.6" x2="286.1" y2="238" stroke="#231f20" stroke-width="0.7" />
<line x1="306.8" y1="235.6" x2="306.8" y2="238" stroke="#231f20" stroke-width="0.7" />
<line x1="325.1" y1="235.6" x2="325.1" y2="238" stroke="#231f20" stroke-width="0.7" />
<line x1="263.8" y1="235.6" x2="263.8" y2="237" stroke="#231f20" stroke-width="0.5" />
<line x1="266.3" y1="235.6" x2="266.3" y2="237" stroke="#231f20" stroke-width="0.5" />
<line x1="268.3" y1="235.6" x2="268.3" y2="237" stroke="#231f20" stroke-width="0.5" />
<line x1="270.3" y1="235.6" x2="270.3" y2="237" stroke="#231f20" stroke-width="0.5" />
<line x1="274.8" y1="235.6" x2="274.8" y2="237" stroke="#231f20" stroke-width="0.5" />
<line x1="276.8" y1="235.6" x2="276.8" y2="237" stroke="#231f20" stroke-width="0.5" />
<line x1="279.3" y1="235.6" x2="279.3" y2="237" stroke="#231f20" stroke-width="0.5" />
<line x1="281.8" y1="235.6" x2="281.8" y2="237" stroke="#231f20" stroke-width="0.5" />
<line x1="292.8" y1="235.6" x2="292.8" y2="237" stroke="#231f20" stroke-width="0.5" />
<line x1="296.8" y1="235.6" x2="296.8" y2="237" stroke="#231f20" stroke-width="0.5" />
<line x1="299.8" y1="235.6" x2="299.8" y2="237" stroke="#231f20" stroke-width="0.5" />
<line x1="302.3" y1="235.6" x2="302.3" y2="237" stroke="#231f20" stroke-width="0.5" />
<line x1="304.3" y1="235.6" x2="304.3" y2="237" stroke="#231f20" stroke-width="0.5" />
<line x1="313.3" y1="235.6" x2="313.3" y2="237" stroke="#231f20" stroke-width="0.5" />
<line x1="317.3" y1="235.6" x2="317.3" y2="237" stroke="#231f20" stroke-width="0.5" />
<line x1="320.3" y1="235.6" x2="320.3" y2="237" stroke="#231f20" stroke-width="0.5" />
<line x1="322.3" y1="235.6" x2="322.3" y2="237" stroke="#231f20" stroke-width="0.5" />
<line x1="323.8" y1="235.6" x2="323.8" y2="237" stroke="#231f20" stroke-width="0.5" />
<line x1="327.8" y1="235.6" x2="327.8" y2="237" stroke="#231f20" stroke-width="0.5" />
<line x1="329.8" y1="235.6" x2="329.8" y2="237" stroke="#231f20" stroke-width="0.5" />
<text x="260.1" y="245.74" font-size="6.5" text-anchor="middle" textLength="10" lengthAdjust="spacingAndGlyphs" fill="#444" stroke="#444" stroke-width="0.12">–10<tspan dy="-2.6" font-size="4.42" stroke-width="0.1">3</tspan><tspan dy="2.6">​</tspan></text>
<text x="272.9" y="245.74" font-size="6.5" text-anchor="middle" fill="#444" stroke="#444" stroke-width="0.12">0</text>
<text x="286.7" y="245.74" font-size="6.5" text-anchor="middle" textLength="8.2" lengthAdjust="spacingAndGlyphs" fill="#444" stroke="#444" stroke-width="0.12">10<tspan dy="-2.6" font-size="4.42" stroke-width="0.1">3</tspan><tspan dy="2.6">​</tspan></text>
<text x="306.9" y="245.74" font-size="6.5" text-anchor="middle" textLength="8.2" lengthAdjust="spacingAndGlyphs" fill="#444" stroke="#444" stroke-width="0.12">10<tspan dy="-2.6" font-size="4.42" stroke-width="0.1">4</tspan><tspan dy="2.6">​</tspan></text>
<text x="325" y="245.74" font-size="6.5" text-anchor="middle" textLength="8.2" lengthAdjust="spacingAndGlyphs" fill="#444" stroke="#444" stroke-width="0.12">10<tspan dy="-2.6" font-size="4.42" stroke-width="0.1">5</tspan><tspan dy="2.6">​</tspan></text>
<text x="292.5" y="256.38" font-size="9.4" text-anchor="middle" textLength="14.6" lengthAdjust="spacingAndGlyphs" fill="#333" stroke="#333" stroke-width="0.12">c-Kit</text>
<clipPath id="p3c"><path d="M268.7,192 C269,188 272,187.2 277.5,186.8 L282,187.6 L286.9,187.8 L291,188.3 L295,187.8 L299,187 L304.4,185.8 L309,186.2 L313.8,186.4 L315.2,189.8 L313.5,191.5 L311.8,193.8 L309,198.5 L305.8,203.9 L303,207 L300.4,210 L297,213.5 L293.6,216.7 L290,220 L286.9,222.8 L283.5,224.8 L280.2,226.1 L276.5,227.2 L273.5,227.5 L269.4,226.1 L268.6,220 Z"/></clipPath>
<path d="M268.7,192 C269,188 272,187.2 277.5,186.8 L282,187.6 L286.9,187.8 L291,188.3 L295,187.8 L299,187 L304.4,185.8 L309,186.2 L313.8,186.4 L315.2,189.8 L313.5,191.5 L311.8,193.8 L309,198.5 L305.8,203.9 L303,207 L300.4,210 L297,213.5 L293.6,216.7 L290,220 L286.9,222.8 L283.5,224.8 L280.2,226.1 L276.5,227.2 L273.5,227.5 L269.4,226.1 L268.6,220 Z" fill="#13379f"/>
<g clip-path="url(#p3c)"><g filter="url(#sb)">
<path d="M272,189.5 L300,189.5 L311,188.8 L305,198 L297,207 L288,215.5 L280,222 L273,225 Z" fill="#2a58c6"/>
<path d="M274,198 L288,196.5 L300,191 L309,189.5 L306,195.5 L298,201 L288,205.5 L280,210 L276,216 L273.5,214 Z" fill="#3385d8"/>
<ellipse cx="304.4" cy="191.8" rx="4.2" ry="2.4" fill="#45b8e8" transform="rotate(-20 304.4 191.8)"/>
<ellipse cx="292" cy="200.2" rx="6.5" ry="2" fill="#45b0e6"/>
<ellipse cx="281.5" cy="201" rx="5" ry="1.8" fill="#45b0e6"/>
<ellipse cx="278.5" cy="214.5" rx="2" ry="3.2" fill="#3fa8e2"/>
<ellipse cx="275" cy="206" rx="6.5" ry="18.5" fill="#3a9ee0"/>
</g></g>
<circle cx="278" cy="184.5" r="0.7" fill="#2440a0"/>
<circle cx="281" cy="185" r="0.7" fill="#2440a0"/>
<circle cx="288" cy="185" r="0.7" fill="#2440a0"/>
<circle cx="292" cy="186.5" r="0.7" fill="#2440a0"/>
<circle cx="302" cy="184.5" r="0.7" fill="#2440a0"/>
<circle cx="308.5" cy="185" r="0.7" fill="#2440a0"/>
<circle cx="315" cy="188.5" r="0.7" fill="#2440a0"/>
<circle cx="316" cy="191" r="0.7" fill="#2440a0"/>
<circle cx="313" cy="196.5" r="0.7" fill="#2440a0"/>
<circle cx="311" cy="198" r="0.7" fill="#2440a0"/>
<circle cx="305" cy="209" r="0.7" fill="#2440a0"/>
<circle cx="303" cy="212.5" r="0.7" fill="#2440a0"/>
<circle cx="300" cy="214" r="0.7" fill="#2440a0"/>
<circle cx="296.5" cy="218" r="0.7" fill="#2440a0"/>
<circle cx="294" cy="220.5" r="0.7" fill="#2440a0"/>
<circle cx="291" cy="222.5" r="0.7" fill="#2440a0"/>
<circle cx="289.5" cy="225" r="0.7" fill="#2440a0"/>
<circle cx="286" cy="226.5" r="0.7" fill="#2440a0"/>
<circle cx="290" cy="227.5" r="0.7" fill="#2440a0"/>
<circle cx="298" cy="215.5" r="0.7" fill="#2440a0"/>
<circle cx="301" cy="219" r="0.7" fill="#2440a0"/>
<circle cx="294.5" cy="213.5" r="0.7" fill="#2440a0"/>
<circle cx="267" cy="198" r="0.7" fill="#2440a0"/>
<circle cx="266.8" cy="207" r="0.7" fill="#2440a0"/>
<circle cx="266.5" cy="218" r="0.7" fill="#2440a0"/>
<circle cx="273" cy="229" r="0.7" fill="#2440a0"/>
<circle cx="277" cy="229.8" r="0.7" fill="#2440a0"/>
<circle cx="281.5" cy="228.5" r="0.7" fill="#2440a0"/>
<circle cx="285.7" cy="174" r="0.7" fill="#2440a0"/>
<circle cx="316.3" cy="200" r="0.7" fill="#2440a0"/>
<circle cx="306.5" cy="207.5" r="0.7" fill="#2440a0"/>
<circle cx="308" cy="204" r="0.7" fill="#2440a0"/>
<circle cx="304" cy="211" r="0.7" fill="#2440a0"/>
<circle cx="299" cy="217.5" r="0.7" fill="#2440a0"/>
<circle cx="296" cy="222" r="0.7" fill="#2440a0"/>
<circle cx="292.5" cy="224.5" r="0.7" fill="#2440a0"/>
<circle cx="283" cy="228.5" r="0.7" fill="#2440a0"/>
<circle cx="288" cy="227" r="0.7" fill="#2440a0"/>
<ellipse cx="272.5" cy="205.2" rx="4.6" ry="18.2" fill="#2f8ee0"/>
<ellipse cx="272.5" cy="205.2" rx="3.83" ry="15.17" fill="#2ec4ee"/>
<ellipse cx="272.5" cy="205.2" rx="3.07" ry="12.13" fill="#45bb2c"/>
<ellipse cx="272.3" cy="203.2" rx="2.3" ry="9.1" fill="#f3e300"/>
<ellipse cx="272.3" cy="203.2" rx="1.53" ry="6.07" fill="#f89a10"/>
<ellipse cx="272.2" cy="203" rx="0.77" ry="3.03" fill="#f01414"/>
<rect x="284.5" y="180" width="38.8" height="24.3" fill="none" stroke="#8a8a8a" stroke-width="0.8" />
<text x="317.8" y="178.79" font-size="7.2" text-anchor="middle" textLength="10" lengthAdjust="spacingAndGlyphs" fill="#333" stroke="#333" stroke-width="0.12">8%</text>
<rect x="254.8" y="167.8" width="76.2" height="67.8" fill="none" stroke="#231f20" stroke-width="1.25" />
<line x1="33.3" y1="264.7" x2="35.7" y2="264.7" stroke="#231f20" stroke-width="0.7" />
<line x1="33.3" y1="277.3" x2="35.7" y2="277.3" stroke="#231f20" stroke-width="0.7" />
<line x1="33.3" y1="290" x2="35.7" y2="290" stroke="#231f20" stroke-width="0.7" />
<line x1="33.3" y1="302.6" x2="35.7" y2="302.6" stroke="#231f20" stroke-width="0.7" />
<line x1="33.3" y1="315.4" x2="35.7" y2="315.4" stroke="#231f20" stroke-width="0.7" />
<line x1="33.3" y1="328.2" x2="35.7" y2="328.2" stroke="#231f20" stroke-width="0.7" />
<line x1="34.4" y1="267.24" x2="35.7" y2="267.24" stroke="#231f20" stroke-width="0.45" />
<line x1="34.4" y1="269.78" x2="35.7" y2="269.78" stroke="#231f20" stroke-width="0.45" />
<line x1="34.4" y1="272.32" x2="35.7" y2="272.32" stroke="#231f20" stroke-width="0.45" />
<line x1="34.4" y1="274.86" x2="35.7" y2="274.86" stroke="#231f20" stroke-width="0.45" />
<line x1="34.4" y1="279.94" x2="35.7" y2="279.94" stroke="#231f20" stroke-width="0.45" />
<line x1="34.4" y1="282.48" x2="35.7" y2="282.48" stroke="#231f20" stroke-width="0.45" />
<line x1="34.4" y1="285.02" x2="35.7" y2="285.02" stroke="#231f20" stroke-width="0.45" />
<line x1="34.4" y1="287.56" x2="35.7" y2="287.56" stroke="#231f20" stroke-width="0.45" />
<line x1="34.4" y1="292.64" x2="35.7" y2="292.64" stroke="#231f20" stroke-width="0.45" />
<line x1="34.4" y1="295.18" x2="35.7" y2="295.18" stroke="#231f20" stroke-width="0.45" />
<line x1="34.4" y1="297.72" x2="35.7" y2="297.72" stroke="#231f20" stroke-width="0.45" />
<line x1="34.4" y1="300.26" x2="35.7" y2="300.26" stroke="#231f20" stroke-width="0.45" />
<line x1="34.4" y1="305.34" x2="35.7" y2="305.34" stroke="#231f20" stroke-width="0.45" />
<line x1="34.4" y1="307.88" x2="35.7" y2="307.88" stroke="#231f20" stroke-width="0.45" />
<line x1="34.4" y1="310.42" x2="35.7" y2="310.42" stroke="#231f20" stroke-width="0.45" />
<line x1="34.4" y1="312.96" x2="35.7" y2="312.96" stroke="#231f20" stroke-width="0.45" />
<line x1="34.4" y1="318.04" x2="35.7" y2="318.04" stroke="#231f20" stroke-width="0.45" />
<line x1="34.4" y1="320.58" x2="35.7" y2="320.58" stroke="#231f20" stroke-width="0.45" />
<line x1="34.4" y1="323.12" x2="35.7" y2="323.12" stroke="#231f20" stroke-width="0.45" />
<line x1="34.4" y1="325.66" x2="35.7" y2="325.66" stroke="#231f20" stroke-width="0.45" />
<text x="31.2" y="266.77" font-size="6.3" text-anchor="end" textLength="14.3" lengthAdjust="spacingAndGlyphs" fill="#444" stroke="#444" stroke-width="0.12">250K</text>
<text x="31.2" y="279.37" font-size="6.3" text-anchor="end" textLength="14.3" lengthAdjust="spacingAndGlyphs" fill="#444" stroke="#444" stroke-width="0.12">200K</text>
<text x="31.2" y="292.07" font-size="6.3" text-anchor="end" textLength="14.3" lengthAdjust="spacingAndGlyphs" fill="#444" stroke="#444" stroke-width="0.12">150K</text>
<text x="31.2" y="304.67" font-size="6.3" text-anchor="end" textLength="14.3" lengthAdjust="spacingAndGlyphs" fill="#444" stroke="#444" stroke-width="0.12">100K</text>
<text x="31.2" y="317.47" font-size="6.3" text-anchor="end" textLength="10.6" lengthAdjust="spacingAndGlyphs" fill="#444" stroke="#444" stroke-width="0.12">50K</text>
<text x="31.2" y="330.27" font-size="6.3" text-anchor="end" fill="#444" stroke="#444" stroke-width="0.12">0</text>
<text x="291" y="0" font-size="9" text-anchor="middle" textLength="20.2" lengthAdjust="spacingAndGlyphs" fill="#333" stroke="#333" stroke-width="0.1" transform="translate(13.14 291) rotate(-90) translate(-291 0)">SSC-A</text>
<line x1="55.7" y1="329.2" x2="55.7" y2="331.6" stroke="#231f20" stroke-width="0.7" />
<line x1="79.2" y1="329.2" x2="79.2" y2="331.6" stroke="#231f20" stroke-width="0.7" />
<line x1="97.7" y1="329.2" x2="97.7" y2="331.6" stroke="#231f20" stroke-width="0.7" />
<line x1="45.7" y1="329.2" x2="45.7" y2="330.5" stroke="#231f20" stroke-width="0.45" />
<line x1="49.7" y1="329.2" x2="49.7" y2="330.5" stroke="#231f20" stroke-width="0.45" />
<line x1="51.7" y1="329.2" x2="51.7" y2="330.5" stroke="#231f20" stroke-width="0.45" />
<line x1="53.7" y1="329.2" x2="53.7" y2="330.5" stroke="#231f20" stroke-width="0.45" />
<line x1="57.7" y1="329.2" x2="57.7" y2="330.5" stroke="#231f20" stroke-width="0.45" />
<line x1="59.7" y1="329.2" x2="59.7" y2="330.5" stroke="#231f20" stroke-width="0.45" />
<line x1="62.7" y1="329.2" x2="62.7" y2="330.5" stroke="#231f20" stroke-width="0.45" />
<line x1="67.7" y1="329.2" x2="67.7" y2="330.5" stroke="#231f20" stroke-width="0.45" />
<line x1="71.7" y1="329.2" x2="71.7" y2="330.5" stroke="#231f20" stroke-width="0.45" />
<line x1="74.2" y1="329.2" x2="74.2" y2="330.5" stroke="#231f20" stroke-width="0.45" />
<line x1="76.2" y1="329.2" x2="76.2" y2="330.5" stroke="#231f20" stroke-width="0.45" />
<line x1="77.7" y1="329.2" x2="77.7" y2="330.5" stroke="#231f20" stroke-width="0.45" />
<line x1="84.7" y1="329.2" x2="84.7" y2="330.5" stroke="#231f20" stroke-width="0.45" />
<line x1="88.7" y1="329.2" x2="88.7" y2="330.5" stroke="#231f20" stroke-width="0.45" />
<line x1="91.7" y1="329.2" x2="91.7" y2="330.5" stroke="#231f20" stroke-width="0.45" />
<line x1="93.7" y1="329.2" x2="93.7" y2="330.5" stroke="#231f20" stroke-width="0.45" />
<line x1="95.7" y1="329.2" x2="95.7" y2="330.5" stroke="#231f20" stroke-width="0.45" />
<line x1="102.7" y1="329.2" x2="102.7" y2="330.5" stroke="#231f20" stroke-width="0.45" />
<line x1="106.7" y1="329.2" x2="106.7" y2="330.5" stroke="#231f20" stroke-width="0.45" />
<line x1="109.2" y1="329.2" x2="109.2" y2="330.5" stroke="#231f20" stroke-width="0.45" />
<text x="55.7" y="339.04" font-size="6.5" text-anchor="middle" fill="#444" stroke="#444" stroke-width="0.12">0</text>
<text x="79.2" y="339.04" font-size="6.5" text-anchor="middle" textLength="8.2" lengthAdjust="spacingAndGlyphs" fill="#444" stroke="#444" stroke-width="0.12">10<tspan dy="-2.6" font-size="4.42" stroke-width="0.1">3</tspan><tspan dy="2.6">​</tspan></text>
<text x="97.7" y="339.04" font-size="6.5" text-anchor="middle" textLength="8.2" lengthAdjust="spacingAndGlyphs" fill="#444" stroke="#444" stroke-width="0.12">10<tspan dy="-2.6" font-size="4.42" stroke-width="0.1">4</tspan><tspan dy="2.6">​</tspan></text>
<rect x="38.7" y="283.3" width="34.5" height="44.2" fill="none" stroke="#aaa" stroke-width="0.9" />
<text x="64" y="280.79" font-size="7.2" text-anchor="middle" textLength="16.5" lengthAdjust="spacingAndGlyphs" fill="#333" stroke="#333" stroke-width="0.12">0.4%</text>
<path d="M56.0,317.5 L56.8,313 L59.5,309.6 L63.5,307.8 L67.8,305.6 L72,304.2 L74.5,302.4 L77,301.8 L80,302.6 L84,302.3 L87,303.6 L90.2,305.2 L93.5,305.8 L97.8,307.0 L97.2,310.0 L94.2,310.6 L92.5,315.3 L87.5,318.9 L80,320.3 L72,320.1 L64,319.6 L57.4,319.0 Z" fill="#13379f"/>
<path d="M57.6,316.8 L58.5,313 L61,310.6 L65,309 L69,307 L73,305.4 L77,303.2 L80.5,304 L84.5,303.8 L88.5,305.6 L92,307.3 L91.2,310 L90.4,314.6 L86.6,317.7 L80,319.1 L72,319 L64,318.5 Z" fill="#2ec4ee"/>
<path d="M59.5,316.4 L60.5,313.2 L66,311 L70.5,309 L74.5,307.3 L79,306.8 L83,305.5 L87.5,307.2 L90.5,309.2 L89.3,313.8 L86,317 L80,318.2 L72,318.2 L64,317.8 Z" fill="#45bb2c"/>
<ellipse cx="62.4" cy="312.1" rx="2.8" ry="1.8" fill="#1f60d4"/>
<ellipse cx="62.4" cy="312.1" rx="2" ry="1.2" fill="#2ec4ee"/>
<ellipse cx="62.4" cy="312.1" rx="1.3" ry="0.8" fill="#45bb2c"/>
<ellipse cx="75.5" cy="305.6" rx="4.3" ry="2.2" fill="#2ec4ee"/>
<ellipse cx="77.3" cy="306.1" rx="1.6" ry="1.1" fill="#1f60d4"/>
<ellipse cx="89.2" cy="312.5" rx="2.2" ry="1.6" fill="#1f60d4"/>
<ellipse cx="89.2" cy="312.5" rx="1.3" ry="1" fill="#13379f"/>
<ellipse cx="93.8" cy="308.3" rx="3" ry="1.6" fill="#13379f"/>
<ellipse cx="70.1" cy="315.6" rx="2.6" ry="1.8" fill="#f3e300"/>
<ellipse cx="78.3" cy="314.5" rx="5.6" ry="3.6" fill="#f3e300"/>
<ellipse cx="77.4" cy="315" rx="3.6" ry="2.5" fill="#f89a10"/>
<ellipse cx="77.3" cy="315.1" rx="3.1" ry="2.2" fill="#f01414"/>
<ellipse cx="80.9" cy="311.3" rx="1.3" ry="1.2" fill="#f89a10"/>
<ellipse cx="80.9" cy="311.3" rx="0.8" ry="0.8" fill="#f01414"/>
<circle cx="63.5" cy="301.5" r="0.7" fill="#2440a0"/>
<circle cx="88.5" cy="303.3" r="0.7" fill="#2440a0"/>
<circle cx="97.5" cy="302" r="0.7" fill="#2440a0"/>
<line x1="73.2" y1="283.3" x2="73.2" y2="327.5" stroke="#333" stroke-width="1.1" />
<rect x="35.7" y="261.2" width="75.8" height="68" fill="none" stroke="#231f20" stroke-width="1.25" />
<line x1="142.8" y1="264.7" x2="145.2" y2="264.7" stroke="#231f20" stroke-width="0.7" />
<line x1="142.8" y1="277.3" x2="145.2" y2="277.3" stroke="#231f20" stroke-width="0.7" />
<line x1="142.8" y1="290" x2="145.2" y2="290" stroke="#231f20" stroke-width="0.7" />
<line x1="142.8" y1="302.6" x2="145.2" y2="302.6" stroke="#231f20" stroke-width="0.7" />
<line x1="142.8" y1="315.4" x2="145.2" y2="315.4" stroke="#231f20" stroke-width="0.7" />
<line x1="142.8" y1="328.2" x2="145.2" y2="328.2" stroke="#231f20" stroke-width="0.7" />
<line x1="143.9" y1="267.24" x2="145.2" y2="267.24" stroke="#231f20" stroke-width="0.45" />
<line x1="143.9" y1="269.78" x2="145.2" y2="269.78" stroke="#231f20" stroke-width="0.45" />
<line x1="143.9" y1="272.32" x2="145.2" y2="272.32" stroke="#231f20" stroke-width="0.45" />
<line x1="143.9" y1="274.86" x2="145.2" y2="274.86" stroke="#231f20" stroke-width="0.45" />
<line x1="143.9" y1="279.94" x2="145.2" y2="279.94" stroke="#231f20" stroke-width="0.45" />
<line x1="143.9" y1="282.48" x2="145.2" y2="282.48" stroke="#231f20" stroke-width="0.45" />
<line x1="143.9" y1="285.02" x2="145.2" y2="285.02" stroke="#231f20" stroke-width="0.45" />
<line x1="143.9" y1="287.56" x2="145.2" y2="287.56" stroke="#231f20" stroke-width="0.45" />
<line x1="143.9" y1="292.64" x2="145.2" y2="292.64" stroke="#231f20" stroke-width="0.45" />
<line x1="143.9" y1="295.18" x2="145.2" y2="295.18" stroke="#231f20" stroke-width="0.45" />
<line x1="143.9" y1="297.72" x2="145.2" y2="297.72" stroke="#231f20" stroke-width="0.45" />
<line x1="143.9" y1="300.26" x2="145.2" y2="300.26" stroke="#231f20" stroke-width="0.45" />
<line x1="143.9" y1="305.34" x2="145.2" y2="305.34" stroke="#231f20" stroke-width="0.45" />
<line x1="143.9" y1="307.88" x2="145.2" y2="307.88" stroke="#231f20" stroke-width="0.45" />
<line x1="143.9" y1="310.42" x2="145.2" y2="310.42" stroke="#231f20" stroke-width="0.45" />
<line x1="143.9" y1="312.96" x2="145.2" y2="312.96" stroke="#231f20" stroke-width="0.45" />
<line x1="143.9" y1="318.04" x2="145.2" y2="318.04" stroke="#231f20" stroke-width="0.45" />
<line x1="143.9" y1="320.58" x2="145.2" y2="320.58" stroke="#231f20" stroke-width="0.45" />
<line x1="143.9" y1="323.12" x2="145.2" y2="323.12" stroke="#231f20" stroke-width="0.45" />
<line x1="143.9" y1="325.66" x2="145.2" y2="325.66" stroke="#231f20" stroke-width="0.45" />
<text x="140.7" y="266.77" font-size="6.3" text-anchor="end" textLength="14.3" lengthAdjust="spacingAndGlyphs" fill="#444" stroke="#444" stroke-width="0.12">250K</text>
<text x="140.7" y="279.37" font-size="6.3" text-anchor="end" textLength="14.3" lengthAdjust="spacingAndGlyphs" fill="#444" stroke="#444" stroke-width="0.12">200K</text>
<text x="140.7" y="292.07" font-size="6.3" text-anchor="end" textLength="14.3" lengthAdjust="spacingAndGlyphs" fill="#444" stroke="#444" stroke-width="0.12">150K</text>
<text x="140.7" y="304.67" font-size="6.3" text-anchor="end" textLength="14.3" lengthAdjust="spacingAndGlyphs" fill="#444" stroke="#444" stroke-width="0.12">100K</text>
<text x="140.7" y="317.47" font-size="6.3" text-anchor="end" textLength="10.6" lengthAdjust="spacingAndGlyphs" fill="#444" stroke="#444" stroke-width="0.12">50K</text>
<text x="140.7" y="330.27" font-size="6.3" text-anchor="end" fill="#444" stroke="#444" stroke-width="0.12">0</text>
<text x="291" y="0" font-size="9" text-anchor="middle" textLength="20.2" lengthAdjust="spacingAndGlyphs" fill="#333" stroke="#333" stroke-width="0.1" transform="translate(122.64 291) rotate(-90) translate(-291 0)">SSC-A</text>
<line x1="165.2" y1="329.2" x2="165.2" y2="331.6" stroke="#231f20" stroke-width="0.7" />
<line x1="188.7" y1="329.2" x2="188.7" y2="331.6" stroke="#231f20" stroke-width="0.7" />
<line x1="207.2" y1="329.2" x2="207.2" y2="331.6" stroke="#231f20" stroke-width="0.7" />
<line x1="155.2" y1="329.2" x2="155.2" y2="330.5" stroke="#231f20" stroke-width="0.45" />
<line x1="159.2" y1="329.2" x2="159.2" y2="330.5" stroke="#231f20" stroke-width="0.45" />
<line x1="161.2" y1="329.2" x2="161.2" y2="330.5" stroke="#231f20" stroke-width="0.45" />
<line x1="163.2" y1="329.2" x2="163.2" y2="330.5" stroke="#231f20" stroke-width="0.45" />
<line x1="167.2" y1="329.2" x2="167.2" y2="330.5" stroke="#231f20" stroke-width="0.45" />
<line x1="169.2" y1="329.2" x2="169.2" y2="330.5" stroke="#231f20" stroke-width="0.45" />
<line x1="172.2" y1="329.2" x2="172.2" y2="330.5" stroke="#231f20" stroke-width="0.45" />
<line x1="177.2" y1="329.2" x2="177.2" y2="330.5" stroke="#231f20" stroke-width="0.45" />
<line x1="181.2" y1="329.2" x2="181.2" y2="330.5" stroke="#231f20" stroke-width="0.45" />
<line x1="183.7" y1="329.2" x2="183.7" y2="330.5" stroke="#231f20" stroke-width="0.45" />
<line x1="185.7" y1="329.2" x2="185.7" y2="330.5" stroke="#231f20" stroke-width="0.45" />
<line x1="187.2" y1="329.2" x2="187.2" y2="330.5" stroke="#231f20" stroke-width="0.45" />
<line x1="194.2" y1="329.2" x2="194.2" y2="330.5" stroke="#231f20" stroke-width="0.45" />
<line x1="198.2" y1="329.2" x2="198.2" y2="330.5" stroke="#231f20" stroke-width="0.45" />
<line x1="201.2" y1="329.2" x2="201.2" y2="330.5" stroke="#231f20" stroke-width="0.45" />
<line x1="203.2" y1="329.2" x2="203.2" y2="330.5" stroke="#231f20" stroke-width="0.45" />
<line x1="205.2" y1="329.2" x2="205.2" y2="330.5" stroke="#231f20" stroke-width="0.45" />
<line x1="212.2" y1="329.2" x2="212.2" y2="330.5" stroke="#231f20" stroke-width="0.45" />
<line x1="216.2" y1="329.2" x2="216.2" y2="330.5" stroke="#231f20" stroke-width="0.45" />
<line x1="218.7" y1="329.2" x2="218.7" y2="330.5" stroke="#231f20" stroke-width="0.45" />
<text x="165.2" y="339.04" font-size="6.5" text-anchor="middle" fill="#444" stroke="#444" stroke-width="0.12">0</text>
<text x="188.7" y="339.04" font-size="6.5" text-anchor="middle" textLength="8.2" lengthAdjust="spacingAndGlyphs" fill="#444" stroke="#444" stroke-width="0.12">10<tspan dy="-2.6" font-size="4.42" stroke-width="0.1">3</tspan><tspan dy="2.6">​</tspan></text>
<text x="207.2" y="339.04" font-size="6.5" text-anchor="middle" textLength="8.2" lengthAdjust="spacingAndGlyphs" fill="#444" stroke="#444" stroke-width="0.12">10<tspan dy="-2.6" font-size="4.42" stroke-width="0.1">4</tspan><tspan dy="2.6">​</tspan></text>
<rect x="148.2" y="283.3" width="34.5" height="44.2" fill="none" stroke="#aaa" stroke-width="0.9" />
<text x="173.5" y="280.79" font-size="7.2" text-anchor="middle" textLength="16.5" lengthAdjust="spacingAndGlyphs" fill="#333" stroke="#333" stroke-width="0.12">0.2%</text>
<path d="M170.6,309.2 L175.8,305.3 L178.4,306.2 L181,304.9 L184.4,302.7 L187.9,303.6 L187,306.6 L189.6,312.7 L187,314.4 L184.4,318.7 L180.1,317.9 L174,319.6 L169.7,319.6 L165.4,317.4 L161.5,315.3 L162.8,313.5 L168,315.3 Z" fill="#1f60d4" stroke="#1f60d4" stroke-width="3.0" stroke-linejoin="round"/>
<path d="M170.6,309.2 L175.8,305.3 L178.4,306.2 L181,304.9 L184.4,302.7 L187.9,303.6 L187,306.6 L189.6,312.7 L187,314.4 L184.4,318.7 L180.1,317.9 L174,319.6 L169.7,319.6 L165.4,317.4 L161.5,315.3 L162.8,313.5 L168,315.3 Z" fill="#2ec4ee" stroke="#2ec4ee" stroke-width="2.0" stroke-linejoin="round"/>
<path d="M170.6,309.2 L175.8,305.3 L178.4,306.2 L181,304.9 L184.4,302.7 L187.9,303.6 L187,306.6 L189.6,312.7 L187,314.4 L184.4,318.7 L180.1,317.9 L174,319.6 L169.7,319.6 L165.4,317.4 L161.5,315.3 L162.8,313.5 L168,315.3 Z" fill="#45bb2c" stroke="#45bb2c" stroke-width="1.0" stroke-linejoin="round"/>
<path d="M170.5,310.5 L175.8,306.4 L178.4,307.3 L181,306 L184.4,303.9 L187,304.5 L186.3,307 L188.4,312.3 L186.2,313.8 L184,317.6 L180,317 L174,318.6 L170.5,318.4 L168,316.5 Z" fill="#f3e300"/>
<path d="M171.5,311 L176,307.3 L178.4,308 L181,306.8 L184.2,304.7 L186.2,305.2 L185.6,307.4 L187.4,312 L185.5,313.2 L183.5,316.8 L180,316.2 L174.5,317.8 L171,317.5 L169.6,316 Z" fill="#f01414"/>
<ellipse cx="164.2" cy="315.1" rx="1.6" ry="1.1" fill="#f3e300"/>
<ellipse cx="178.5" cy="293.2" rx="2" ry="1.7" fill="#1f60d4"/>
<ellipse cx="178.5" cy="293.2" rx="1.5" ry="1.2" fill="#2ec4ee"/>
<ellipse cx="178.5" cy="293.2" rx="0.9" ry="0.8" fill="#45bb2c"/>
<ellipse cx="188.8" cy="310.2" rx="1.4" ry="1.3" fill="#2ec4ee"/>
<ellipse cx="188.8" cy="310.2" rx="0.8" ry="0.7" fill="#45bb2c"/>
<line x1="182.7" y1="283.3" x2="182.7" y2="327.5" stroke="#333" stroke-width="1.1" />
<rect x="145.2" y="261.2" width="75.8" height="68" fill="none" stroke="#231f20" stroke-width="1.25" />
<line x1="252.8" y1="264.7" x2="255.2" y2="264.7" stroke="#231f20" stroke-width="0.7" />
<line x1="252.8" y1="277.3" x2="255.2" y2="277.3" stroke="#231f20" stroke-width="0.7" />
<line x1="252.8" y1="290" x2="255.2" y2="290" stroke="#231f20" stroke-width="0.7" />
<line x1="252.8" y1="302.6" x2="255.2" y2="302.6" stroke="#231f20" stroke-width="0.7" />
<line x1="252.8" y1="315.4" x2="255.2" y2="315.4" stroke="#231f20" stroke-width="0.7" />
<line x1="252.8" y1="328.2" x2="255.2" y2="328.2" stroke="#231f20" stroke-width="0.7" />
<line x1="253.9" y1="267.24" x2="255.2" y2="267.24" stroke="#231f20" stroke-width="0.45" />
<line x1="253.9" y1="269.78" x2="255.2" y2="269.78" stroke="#231f20" stroke-width="0.45" />
<line x1="253.9" y1="272.32" x2="255.2" y2="272.32" stroke="#231f20" stroke-width="0.45" />
<line x1="253.9" y1="274.86" x2="255.2" y2="274.86" stroke="#231f20" stroke-width="0.45" />
<line x1="253.9" y1="279.94" x2="255.2" y2="279.94" stroke="#231f20" stroke-width="0.45" />
<line x1="253.9" y1="282.48" x2="255.2" y2="282.48" stroke="#231f20" stroke-width="0.45" />
<line x1="253.9" y1="285.02" x2="255.2" y2="285.02" stroke="#231f20" stroke-width="0.45" />
<line x1="253.9" y1="287.56" x2="255.2" y2="287.56" stroke="#231f20" stroke-width="0.45" />
<line x1="253.9" y1="292.64" x2="255.2" y2="292.64" stroke="#231f20" stroke-width="0.45" />
<line x1="253.9" y1="295.18" x2="255.2" y2="295.18" stroke="#231f20" stroke-width="0.45" />
<line x1="253.9" y1="297.72" x2="255.2" y2="297.72" stroke="#231f20" stroke-width="0.45" />
<line x1="253.9" y1="300.26" x2="255.2" y2="300.26" stroke="#231f20" stroke-width="0.45" />
<line x1="253.9" y1="305.34" x2="255.2" y2="305.34" stroke="#231f20" stroke-width="0.45" />
<line x1="253.9" y1="307.88" x2="255.2" y2="307.88" stroke="#231f20" stroke-width="0.45" />
<line x1="253.9" y1="310.42" x2="255.2" y2="310.42" stroke="#231f20" stroke-width="0.45" />
<line x1="253.9" y1="312.96" x2="255.2" y2="312.96" stroke="#231f20" stroke-width="0.45" />
<line x1="253.9" y1="318.04" x2="255.2" y2="318.04" stroke="#231f20" stroke-width="0.45" />
<line x1="253.9" y1="320.58" x2="255.2" y2="320.58" stroke="#231f20" stroke-width="0.45" />
<line x1="253.9" y1="323.12" x2="255.2" y2="323.12" stroke="#231f20" stroke-width="0.45" />
<line x1="253.9" y1="325.66" x2="255.2" y2="325.66" stroke="#231f20" stroke-width="0.45" />
<text x="250.7" y="266.77" font-size="6.3" text-anchor="end" textLength="14.3" lengthAdjust="spacingAndGlyphs" fill="#444" stroke="#444" stroke-width="0.12">250K</text>
<text x="250.7" y="279.37" font-size="6.3" text-anchor="end" textLength="14.3" lengthAdjust="spacingAndGlyphs" fill="#444" stroke="#444" stroke-width="0.12">200K</text>
<text x="250.7" y="292.07" font-size="6.3" text-anchor="end" textLength="14.3" lengthAdjust="spacingAndGlyphs" fill="#444" stroke="#444" stroke-width="0.12">150K</text>
<text x="250.7" y="304.67" font-size="6.3" text-anchor="end" textLength="14.3" lengthAdjust="spacingAndGlyphs" fill="#444" stroke="#444" stroke-width="0.12">100K</text>
<text x="250.7" y="317.47" font-size="6.3" text-anchor="end" textLength="10.6" lengthAdjust="spacingAndGlyphs" fill="#444" stroke="#444" stroke-width="0.12">50K</text>
<text x="250.7" y="330.27" font-size="6.3" text-anchor="end" fill="#444" stroke="#444" stroke-width="0.12">0</text>
<text x="291" y="0" font-size="9" text-anchor="middle" textLength="20.2" lengthAdjust="spacingAndGlyphs" fill="#333" stroke="#333" stroke-width="0.1" transform="translate(232.64 291) rotate(-90) translate(-291 0)">SSC-A</text>
<line x1="275.2" y1="329.2" x2="275.2" y2="331.6" stroke="#231f20" stroke-width="0.7" />
<line x1="298.7" y1="329.2" x2="298.7" y2="331.6" stroke="#231f20" stroke-width="0.7" />
<line x1="317.2" y1="329.2" x2="317.2" y2="331.6" stroke="#231f20" stroke-width="0.7" />
<line x1="265.2" y1="329.2" x2="265.2" y2="330.5" stroke="#231f20" stroke-width="0.45" />
<line x1="269.2" y1="329.2" x2="269.2" y2="330.5" stroke="#231f20" stroke-width="0.45" />
<line x1="271.2" y1="329.2" x2="271.2" y2="330.5" stroke="#231f20" stroke-width="0.45" />
<line x1="273.2" y1="329.2" x2="273.2" y2="330.5" stroke="#231f20" stroke-width="0.45" />
<line x1="277.2" y1="329.2" x2="277.2" y2="330.5" stroke="#231f20" stroke-width="0.45" />
<line x1="279.2" y1="329.2" x2="279.2" y2="330.5" stroke="#231f20" stroke-width="0.45" />
<line x1="282.2" y1="329.2" x2="282.2" y2="330.5" stroke="#231f20" stroke-width="0.45" />
<line x1="287.2" y1="329.2" x2="287.2" y2="330.5" stroke="#231f20" stroke-width="0.45" />
<line x1="291.2" y1="329.2" x2="291.2" y2="330.5" stroke="#231f20" stroke-width="0.45" />
<line x1="293.7" y1="329.2" x2="293.7" y2="330.5" stroke="#231f20" stroke-width="0.45" />
<line x1="295.7" y1="329.2" x2="295.7" y2="330.5" stroke="#231f20" stroke-width="0.45" />
<line x1="297.2" y1="329.2" x2="297.2" y2="330.5" stroke="#231f20" stroke-width="0.45" />
<line x1="304.2" y1="329.2" x2="304.2" y2="330.5" stroke="#231f20" stroke-width="0.45" />
<line x1="308.2" y1="329.2" x2="308.2" y2="330.5" stroke="#231f20" stroke-width="0.45" />
<line x1="311.2" y1="329.2" x2="311.2" y2="330.5" stroke="#231f20" stroke-width="0.45" />
<line x1="313.2" y1="329.2" x2="313.2" y2="330.5" stroke="#231f20" stroke-width="0.45" />
<line x1="315.2" y1="329.2" x2="315.2" y2="330.5" stroke="#231f20" stroke-width="0.45" />
<line x1="322.2" y1="329.2" x2="322.2" y2="330.5" stroke="#231f20" stroke-width="0.45" />
<line x1="326.2" y1="329.2" x2="326.2" y2="330.5" stroke="#231f20" stroke-width="0.45" />
<line x1="328.7" y1="329.2" x2="328.7" y2="330.5" stroke="#231f20" stroke-width="0.45" />
<text x="275.2" y="339.04" font-size="6.5" text-anchor="middle" fill="#444" stroke="#444" stroke-width="0.12">0</text>
<text x="298.7" y="339.04" font-size="6.5" text-anchor="middle" textLength="8.2" lengthAdjust="spacingAndGlyphs" fill="#444" stroke="#444" stroke-width="0.12">10<tspan dy="-2.6" font-size="4.42" stroke-width="0.1">3</tspan><tspan dy="2.6">​</tspan></text>
<text x="317.2" y="339.04" font-size="6.5" text-anchor="middle" textLength="8.2" lengthAdjust="spacingAndGlyphs" fill="#444" stroke="#444" stroke-width="0.12">10<tspan dy="-2.6" font-size="4.42" stroke-width="0.1">4</tspan><tspan dy="2.6">​</tspan></text>
<rect x="258.2" y="283.3" width="34.5" height="44.2" fill="none" stroke="#aaa" stroke-width="0.9" />
<text x="284.4" y="280.79" font-size="7.2" text-anchor="middle" textLength="9.5" lengthAdjust="spacingAndGlyphs" fill="#333" stroke="#333" stroke-width="0.12">5%</text>
<clipPath id="q3c"><path d="M270.2,317.6 L269.6,309.5 L272.5,304 L274.5,300.5 L276,296.8 L279,295.5 L282.3,294 L285,292.5 L287.5,291.5 L289.8,289.9 L291.2,291.8 L292.7,292.8 L295,293.6 L297.3,295.1 L300.5,295.3 L304.2,295.7 L306.2,298.5 L307.7,300.9 L309.8,303.3 L311.7,306.1 L311.2,309.5 L310.6,313 L308.5,315.5 L306.5,317.6 L303,319 L299.6,319.9 L294,320.8 L288.1,321.1 L282,321 L276.5,320.5 L272.5,319.5 Z"/></clipPath>
<path d="M270.2,317.6 L269.6,309.5 L272.5,304 L274.5,300.5 L276,296.8 L279,295.5 L282.3,294 L285,292.5 L287.5,291.5 L289.8,289.9 L291.2,291.8 L292.7,292.8 L295,293.6 L297.3,295.1 L300.5,295.3 L304.2,295.7 L306.2,298.5 L307.7,300.9 L309.8,303.3 L311.7,306.1 L311.2,309.5 L310.6,313 L308.5,315.5 L306.5,317.6 L303,319 L299.6,319.9 L294,320.8 L288.1,321.1 L282,321 L276.5,320.5 L272.5,319.5 Z" fill="#13379f"/>
<g clip-path="url(#q3c)">
<ellipse cx="289.5" cy="310.4" rx="16.5" ry="12.2" fill="#2a5fcc"/>
<ellipse cx="289.5" cy="310.4" rx="14.2" ry="10.1" fill="#2ec4ee"/>
<ellipse cx="289.5" cy="310.6" rx="12.6" ry="8.6" fill="#45bb2c"/>
</g>
<ellipse cx="288.4" cy="312.1" rx="7.2" ry="4.4" fill="#f3e300"/>
<ellipse cx="288.5" cy="312.2" rx="5.4" ry="3.4" fill="#f89a10"/>
<ellipse cx="288.6" cy="312.3" rx="4.5" ry="2.9" fill="#f01414"/>
<circle cx="279" cy="288.5" r="0.7" fill="#2440a0"/>
<circle cx="281" cy="286" r="0.7" fill="#2440a0"/>
<circle cx="284" cy="289" r="0.7" fill="#2440a0"/>
<circle cx="287" cy="288.5" r="0.7" fill="#2440a0"/>
<circle cx="290" cy="287" r="0.7" fill="#2440a0"/>
<circle cx="295" cy="289.5" r="0.7" fill="#2440a0"/>
<circle cx="298" cy="290.8" r="0.7" fill="#2440a0"/>
<circle cx="299.5" cy="288.2" r="0.7" fill="#2440a0"/>
<circle cx="304" cy="287" r="0.7" fill="#2440a0"/>
<circle cx="273" cy="295" r="0.7" fill="#2440a0"/>
<circle cx="271.5" cy="298" r="0.7" fill="#2440a0"/>
<circle cx="268.3" cy="309" r="0.7" fill="#2440a0"/>
<circle cx="315" cy="300" r="0.7" fill="#2440a0"/>
<circle cx="316.5" cy="302" r="0.7" fill="#2440a0"/>
<circle cx="318" cy="305" r="0.7" fill="#2440a0"/>
<circle cx="320" cy="306" r="0.7" fill="#2440a0"/>
<circle cx="314" cy="308" r="0.7" fill="#2440a0"/>
<circle cx="317" cy="313" r="0.7" fill="#2440a0"/>
<circle cx="318.5" cy="314.5" r="0.7" fill="#2440a0"/>
<circle cx="315.3" cy="311.5" r="0.7" fill="#2440a0"/>
<circle cx="321" cy="304" r="0.7" fill="#2440a0"/>
<circle cx="311" cy="316" r="0.7" fill="#2440a0"/>
<circle cx="319" cy="318" r="0.7" fill="#2440a0"/>
<line x1="292.7" y1="283.3" x2="292.7" y2="327.5" stroke="#333" stroke-width="1.1" />
<rect x="255.2" y="261.2" width="75.8" height="68" fill="none" stroke="#231f20" stroke-width="1.25" />
<line x1="100.7" y1="204.5" x2="100.7" y2="263.3" stroke="#333" stroke-width="1.3" />
<path d="M100.7,273.3 L97.7,262.8 L103.7,262.8 Z" fill="#333"/>
<line x1="211" y1="203.9" x2="211" y2="263.3" stroke="#333" stroke-width="1.3" />
<path d="M211,273.3 L208,262.8 L214,262.8 Z" fill="#333"/>
<line x1="317.9" y1="204.3" x2="317.9" y2="263.3" stroke="#333" stroke-width="1.3" />
<path d="M317.9,273.3 L314.9,262.8 L320.9,262.8 Z" fill="#333"/>
<text x="73" y="349.9" font-size="10" text-anchor="middle" textLength="18.9" lengthAdjust="spacingAndGlyphs" fill="#333" stroke="#333" stroke-width="0.12">CD34</text>
<line x1="88" y1="346.5" x2="318.7" y2="346.5" stroke="#2a2a2a" stroke-width="1.2" />
<path d="M328.7,346.5 L318.2,349.5 L318.2,343.5 Z" fill="#2a2a2a"/>
<circle cx="368.4" cy="175.8" r="1.9" fill="#c8102e"/>
<text x="374" y="178.32" font-size="7" textLength="23" lengthAdjust="spacingAndGlyphs" fill="#333" stroke="#333" stroke-width="0.12">34<tspan dy="-2.8" font-size="4.76" stroke-width="0.1">–</tspan><tspan dy="2.8">​</tspan>KSL</text>
<circle cx="403.3" cy="175.8" r="1.9" fill="#1a4f8b"/>
<text x="408.9" y="178.32" font-size="7" textLength="38.5" lengthAdjust="spacingAndGlyphs" fill="#333" stroke="#333" stroke-width="0.12">Sdc2<tspan dy="-2.8" font-size="4.76" stroke-width="0.1">–</tspan><tspan dy="2.8">​</tspan> HSCs</text>
<circle cx="453.5" cy="175.8" r="1.9" fill="#3cb64a"/>
<text x="459.1" y="178.32" font-size="7" textLength="37.5" lengthAdjust="spacingAndGlyphs" fill="#333" stroke="#333" stroke-width="0.12">Sdc2<tspan dy="-2.8" font-size="4.76" stroke-width="0.1">+</tspan><tspan dy="2.8">​</tspan> HSCs</text>
<text x="348.1" y="197.6" font-size="11.3" font-weight="bold">D</text>
<line x1="380.6" y1="199.4" x2="380.6" y2="209.5" stroke="#231f20" stroke-width="1.0" />
<line x1="378.4" y1="209.5" x2="382.4" y2="209.5" stroke="#231f20" stroke-width="0.9" />
<line x1="380.6" y1="218.4" x2="380.6" y2="307.9" stroke="#231f20" stroke-width="1.0" />
<line x1="378.4" y1="218.4" x2="382.6" y2="218.4" stroke="#231f20" stroke-width="0.9" />
<line x1="377.6" y1="199.6" x2="380.6" y2="199.6" stroke="#231f20" stroke-width="0.9" />
<line x1="377.6" y1="263.5" x2="380.6" y2="263.5" stroke="#231f20" stroke-width="0.9" />
<line x1="377.6" y1="307.9" x2="380.6" y2="307.9" stroke="#231f20" stroke-width="0.9" />
<text x="375.2" y="202.3" font-size="7.5" text-anchor="end" textLength="11.8" lengthAdjust="spacingAndGlyphs" fill="#333" stroke="#333" stroke-width="0.12">100</text>
<text x="375.2" y="211.7" font-size="7.5" text-anchor="end" textLength="7.7" lengthAdjust="spacingAndGlyphs" fill="#333" stroke="#333" stroke-width="0.12">10</text>
<text x="375.2" y="220.7" font-size="7.5" text-anchor="end" textLength="7.7" lengthAdjust="spacingAndGlyphs" fill="#333" stroke="#333" stroke-width="0.12">10</text>
<text x="375.2" y="266" font-size="7.5" text-anchor="end" fill="#333" stroke="#333" stroke-width="0.12">1</text>
<text x="375.2" y="310.4" font-size="7.5" text-anchor="end" textLength="10.5" lengthAdjust="spacingAndGlyphs" fill="#333" stroke="#333" stroke-width="0.12">0.1</text>
<line x1="380.6" y1="307.9" x2="415.7" y2="307.9" stroke="#231f20" stroke-width="1.0" />
<line x1="415.7" y1="307.9" x2="415.7" y2="310.4" stroke="#231f20" stroke-width="0.9" />
<line x1="380.6" y1="307.9" x2="380.6" y2="310.4" stroke="#231f20" stroke-width="0.9" />
<text x="380.6" y="320.15" font-size="8.2" text-anchor="middle" textLength="4" lengthAdjust="spacingAndGlyphs" fill="#333" stroke="#333" stroke-width="0.12">0</text>
<text x="415.5" y="320.15" font-size="8.2" text-anchor="middle" textLength="4" lengthAdjust="spacingAndGlyphs" fill="#333" stroke="#333" stroke-width="0.12">7</text>
<text x="400.3" y="329.61" font-size="9.2" text-anchor="middle" textLength="15.4" lengthAdjust="spacingAndGlyphs" fill="#333" stroke="#333" stroke-width="0.12">Days</text>
<text x="263.1" y="0" font-size="8.5" text-anchor="middle" textLength="47.9" lengthAdjust="spacingAndGlyphs" fill="#333" stroke="#333" stroke-width="0.12" transform="translate(357.96 263.1) rotate(-90) translate(-263.1 0)">% 34<tspan dy="-3.4" font-size="5.78" stroke-width="0.1">–</tspan><tspan dy="3.4">​</tspan>KSL cells</text>
<clipPath id="cdU"><rect x="375" y="195" width="50" height="14.5"/></clipPath>
<clipPath id="cdL"><rect x="375" y="218.4" width="50" height="95"/></clipPath>
<g clip-path="url(#cdU)" stroke-width="1.4" fill="none"><line x1="380.6" y1="199.6" x2="415.5" y2="284.6" stroke="#1a4f8b"/><line x1="380.6" y1="199.6" x2="415.5" y2="268.6" stroke="#c8102e"/><line x1="380.6" y1="199.6" x2="415.5" y2="246" stroke="#2fb543"/></g>
<g clip-path="url(#cdL)" stroke-width="1.4" fill="none"><line x1="380.6" y1="199.6" x2="415.5" y2="284.6" stroke="#1a4f8b"/><line x1="380.6" y1="199.6" x2="415.5" y2="268.6" stroke="#c8102e"/><line x1="380.6" y1="199.6" x2="415.5" y2="246" stroke="#2fb543"/></g>
<line x1="415.5" y1="240.2" x2="415.5" y2="252.9" stroke="#3cb64a" stroke-width="0.9" />
<line x1="413" y1="240.2" x2="418" y2="240.2" stroke="#3cb64a" stroke-width="0.9" />
<line x1="413" y1="252.9" x2="418" y2="252.9" stroke="#3cb64a" stroke-width="0.9" />
<line x1="415.5" y1="264.8" x2="415.5" y2="272.7" stroke="#c8102e" stroke-width="0.9" />
<line x1="413" y1="264.8" x2="418" y2="264.8" stroke="#c8102e" stroke-width="0.9" />
<line x1="413" y1="272.7" x2="418" y2="272.7" stroke="#c8102e" stroke-width="0.9" />
<line x1="415.5" y1="280.2" x2="415.5" y2="289.8" stroke="#1a4f8b" stroke-width="0.9" />
<line x1="413" y1="280.2" x2="418" y2="280.2" stroke="#1a4f8b" stroke-width="0.9" />
<line x1="413" y1="289.8" x2="418" y2="289.8" stroke="#1a4f8b" stroke-width="0.9" />
<circle cx="415.5" cy="246" r="2.2" fill="#2fb543"/>
<circle cx="415.5" cy="268.6" r="2.2" fill="#c8102e"/>
<circle cx="415.5" cy="284.6" r="2.2" fill="#1a4f8b"/>
<circle cx="381" cy="199.8" r="2.3" fill="#c8102e"/>
<text x="415.4" y="228.4" font-size="6.4" font-style="italic" text-anchor="middle" textLength="8.0" lengthAdjust="spacingAndGlyphs" fill="#333" stroke="#333" stroke-width="0.2">##</text>
<path d="M412.15,232.74 L412.56,233.57 L413.48,233.71 L412.82,234.36 L412.97,235.27 L412.15,234.84 L411.33,235.27 L411.48,234.36 L410.82,233.71 L411.74,233.57 Z" fill="#2a2a2a"/>
<path d="M415.45,232.74 L415.86,233.57 L416.78,233.71 L416.12,234.36 L416.27,235.27 L415.45,234.84 L414.63,235.27 L414.78,234.36 L414.12,233.71 L415.04,233.57 Z" fill="#2a2a2a"/>
<path d="M418.75,232.74 L419.16,233.57 L420.08,233.71 L419.42,234.36 L419.57,235.27 L418.75,234.84 L417.93,235.27 L418.08,234.36 L417.42,233.71 L418.34,233.57 Z" fill="#2a2a2a"/>
<text x="432.3" y="197.7" font-size="11.3" font-weight="bold">E</text>
<line x1="470.8" y1="198.1" x2="470.8" y2="308.6" stroke="#4a4a4a" stroke-width="1.3" />
<line x1="467.8" y1="198.1" x2="470.8" y2="198.1" stroke="#4a4a4a" stroke-width="1.0" />
<line x1="467.8" y1="253.5" x2="470.8" y2="253.5" stroke="#4a4a4a" stroke-width="1.0" />
<line x1="467.8" y1="308.3" x2="470.8" y2="308.3" stroke="#4a4a4a" stroke-width="1.0" />
<text x="466.6" y="201.9" font-size="7.5" text-anchor="end" textLength="20.4" lengthAdjust="spacingAndGlyphs" fill="#333" stroke="#333" stroke-width="0.12">1×10<tspan dy="-3" font-size="5.1" stroke-width="0.1">4</tspan><tspan dy="3">​</tspan></text>
<text x="466.6" y="257.2" font-size="7.5" text-anchor="end" textLength="20.4" lengthAdjust="spacingAndGlyphs" fill="#333" stroke="#333" stroke-width="0.12">1×10<tspan dy="-3" font-size="5.1" stroke-width="0.1">3</tspan><tspan dy="3">​</tspan></text>
<text x="466.6" y="312" font-size="7.5" text-anchor="end" textLength="20.4" lengthAdjust="spacingAndGlyphs" fill="#333" stroke="#333" stroke-width="0.12">1×10<tspan dy="-3" font-size="5.1" stroke-width="0.1">2</tspan><tspan dy="3">​</tspan></text>
<line x1="470.8" y1="308.3" x2="504" y2="308.3" stroke="#4a4a4a" stroke-width="1.3" />
<line x1="504" y1="308.3" x2="504" y2="310.8" stroke="#4a4a4a" stroke-width="1.0" />
<line x1="470.8" y1="308.3" x2="470.8" y2="310.8" stroke="#4a4a4a" stroke-width="1.0" />
<text x="470.8" y="320.15" font-size="8.2" text-anchor="middle" textLength="4" lengthAdjust="spacingAndGlyphs" fill="#333" stroke="#333" stroke-width="0.12">0</text>
<text x="503.9" y="320.15" font-size="8.2" text-anchor="middle" textLength="4" lengthAdjust="spacingAndGlyphs" fill="#333" stroke="#333" stroke-width="0.12">7</text>
<text x="486.8" y="329.61" font-size="9.2" text-anchor="middle" textLength="15.4" lengthAdjust="spacingAndGlyphs" fill="#333" stroke="#333" stroke-width="0.12">Days</text>
<text x="253" y="0" font-size="8.5" text-anchor="middle" textLength="45.8" lengthAdjust="spacingAndGlyphs" fill="#333" stroke="#333" stroke-width="0.12" transform="translate(440.06 253) rotate(-90) translate(-253 0)"># 34<tspan dy="-3.4" font-size="5.78" stroke-width="0.1">–</tspan><tspan dy="3.4">​</tspan>KSL cells</text>
<line x1="470.8" y1="270.4" x2="504" y2="220.3" stroke="#2fb543" stroke-width="1.4" />
<line x1="470.8" y1="270.4" x2="504" y2="251.6" stroke="#c8102e" stroke-width="1.4" />
<line x1="470.8" y1="270.4" x2="504" y2="298.4" stroke="#1a4f8b" stroke-width="1.4" />
<line x1="504" y1="214.8" x2="504" y2="227" stroke="#45bb2c" stroke-width="0.9" />
<line x1="501.5" y1="214.8" x2="506.5" y2="214.8" stroke="#45bb2c" stroke-width="0.9" />
<line x1="501.5" y1="227" x2="506.5" y2="227" stroke="#45bb2c" stroke-width="0.9" />
<line x1="504" y1="246.8" x2="504" y2="257" stroke="#d8506a" stroke-width="0.9" />
<line x1="501.5" y1="246.8" x2="506.5" y2="246.8" stroke="#d8506a" stroke-width="0.9" />
<line x1="501.5" y1="257" x2="506.5" y2="257" stroke="#d8506a" stroke-width="0.9" />
<line x1="504" y1="291.7" x2="504" y2="307.7" stroke="#5a86b8" stroke-width="0.9" />
<line x1="501.5" y1="291.7" x2="506.5" y2="291.7" stroke="#5a86b8" stroke-width="0.9" />
<line x1="501.5" y1="307.7" x2="506.5" y2="307.7" stroke="#5a86b8" stroke-width="0.9" />
<circle cx="504" cy="220.3" r="2.2" fill="#2fb543"/>
<circle cx="504" cy="251.6" r="2.2" fill="#c8102e"/>
<circle cx="504" cy="298.4" r="2.2" fill="#1a4f8b"/>
<circle cx="470.8" cy="270.4" r="2.3" fill="#c8102e"/>
<text x="504.0" y="204.3" font-size="7.0" font-style="italic" text-anchor="middle" textLength="11.8" lengthAdjust="spacingAndGlyphs" fill="#333" stroke="#333" stroke-width="0.2">###</text>
<path d="M498.9,208.24 L499.31,209.07 L500.23,209.21 L499.57,209.86 L499.72,210.77 L498.9,210.34 L498.08,210.77 L498.23,209.86 L497.57,209.21 L498.49,209.07 Z" fill="#2a2a2a"/>
<path d="M502.2,208.24 L502.61,209.07 L503.53,209.21 L502.87,209.86 L503.02,210.77 L502.2,210.34 L501.38,210.77 L501.53,209.86 L500.87,209.21 L501.79,209.07 Z" fill="#2a2a2a"/>
<path d="M505.5,208.24 L505.91,209.07 L506.83,209.21 L506.17,209.86 L506.32,210.77 L505.5,210.34 L504.68,210.77 L504.83,209.86 L504.17,209.21 L505.09,209.07 Z" fill="#2a2a2a"/>
<path d="M508.8,208.24 L509.21,209.07 L510.13,209.21 L509.47,209.86 L509.62,210.77 L508.8,210.34 L507.98,210.77 L508.13,209.86 L507.47,209.21 L508.39,209.07 Z" fill="#2a2a2a"/>
<circle cx="40.9" cy="370.9" r="2.2" fill="#d11a33"/>
<text x="46.4" y="373.53" font-size="7.3" textLength="39.6" lengthAdjust="spacingAndGlyphs" fill="#333" stroke="#333" stroke-width="0.12">Sdc2<tspan dy="-2.92" font-size="4.96" stroke-width="0.1">–</tspan><tspan dy="2.92">​</tspan> HSCs</text>
<circle cx="96.3" cy="370.9" r="2.2" fill="#1a4f8b"/>
<text x="101.8" y="373.53" font-size="7.3" textLength="39.3" lengthAdjust="spacingAndGlyphs" fill="#333" stroke="#333" stroke-width="0.12">Sdc2<tspan dy="-2.92" font-size="4.96" stroke-width="0.1">+</tspan><tspan dy="2.92">​</tspan> HSCs</text>
<circle cx="200.4" cy="370.9" r="2.2" fill="#d11a33"/>
<text x="205.9" y="373.53" font-size="7.3" textLength="38.9" lengthAdjust="spacingAndGlyphs" fill="#333" stroke="#333" stroke-width="0.12">Sdc2<tspan dy="-2.92" font-size="4.96" stroke-width="0.1">–</tspan><tspan dy="2.92">​</tspan> HSCs</text>
<circle cx="255.8" cy="370.9" r="2.2" fill="#1a4f8b"/>
<text x="261.3" y="373.53" font-size="7.3" textLength="39.7" lengthAdjust="spacingAndGlyphs" fill="#333" stroke="#333" stroke-width="0.12">Sdc2<tspan dy="-2.92" font-size="4.96" stroke-width="0.1">+</tspan><tspan dy="2.92">​</tspan> HSCs</text>
<circle cx="377" cy="370.9" r="2.2" fill="#d11a33"/>
<text x="382.5" y="373.53" font-size="7.3" textLength="39.4" lengthAdjust="spacingAndGlyphs" fill="#333" stroke="#333" stroke-width="0.12">Sdc2<tspan dy="-2.92" font-size="4.96" stroke-width="0.1">–</tspan><tspan dy="2.92">​</tspan> HSCs</text>
<circle cx="432.4" cy="370.9" r="2.2" fill="#1a4f8b"/>
<text x="437.9" y="373.53" font-size="7.3" textLength="40.3" lengthAdjust="spacingAndGlyphs" fill="#333" stroke="#333" stroke-width="0.12">Sdc2<tspan dy="-2.92" font-size="4.96" stroke-width="0.1">+</tspan><tspan dy="2.92">​</tspan> HSCs</text>
<text x="7" y="390.9" font-size="11.3" font-weight="bold">F</text>
<line x1="45.6" y1="390.8" x2="45.6" y2="503" stroke="#231f20" stroke-width="1.0" />
<line x1="45.1" y1="502.5" x2="78.5" y2="502.5" stroke="#231f20" stroke-width="1.0" />
<line x1="42.6" y1="391.3" x2="45.6" y2="391.3" stroke="#231f20" stroke-width="0.9" />
<text x="39.2" y="393.96" font-size="7.4" text-anchor="end" fill="#333" stroke="#333" stroke-width="0.12">80</text>
<line x1="42.6" y1="419.1" x2="45.6" y2="419.1" stroke="#231f20" stroke-width="0.9" />
<text x="39.2" y="421.76" font-size="7.4" text-anchor="end" fill="#333" stroke="#333" stroke-width="0.12">60</text>
<line x1="42.6" y1="446.9" x2="45.6" y2="446.9" stroke="#231f20" stroke-width="0.9" />
<text x="39.2" y="449.56" font-size="7.4" text-anchor="end" fill="#333" stroke="#333" stroke-width="0.12">40</text>
<line x1="42.6" y1="474.7" x2="45.6" y2="474.7" stroke="#231f20" stroke-width="0.9" />
<text x="39.2" y="477.36" font-size="7.4" text-anchor="end" fill="#333" stroke="#333" stroke-width="0.12">20</text>
<line x1="42.6" y1="502.5" x2="45.6" y2="502.5" stroke="#231f20" stroke-width="0.9" />
<text x="39.2" y="505.16" font-size="7.4" text-anchor="end" fill="#333" stroke="#333" stroke-width="0.12">0</text>
<rect x="50.1" y="454.8" width="9.1" height="47.7" fill="#e2877c" stroke="#dc7468" stroke-width="0.5" />
<rect x="64.5" y="488.5" width="8.7" height="14" fill="#8b97c2" stroke="#7483b3" stroke-width="0.5" />
<line x1="54.6" y1="446.5" x2="54.6" y2="463.5" stroke="#b33" stroke-width="0.8" />
<line x1="53" y1="463.5" x2="56.2" y2="463.5" stroke="#b33" stroke-width="0.8" />
<circle cx="52.9" cy="446.5" r="2.3" fill="#d0112b"/>
<circle cx="57" cy="451" r="2.3" fill="#d0112b"/>
<circle cx="54.3" cy="454.5" r="2.3" fill="#d0112b"/>
<circle cx="57.4" cy="457.7" r="2.3" fill="#d0112b"/>
<circle cx="54.7" cy="465.3" r="2.3" fill="#d0112b"/>
<circle cx="68.8" cy="481" r="2.3" fill="#17508c"/>
<circle cx="68.8" cy="484" r="2.3" fill="#17508c"/>
<circle cx="65.5" cy="487" r="2.3" fill="#17508c"/>
<circle cx="71.7" cy="486.6" r="2.3" fill="#17508c"/>
<circle cx="67.9" cy="487.6" r="2.3" fill="#17508c"/>
<circle cx="70" cy="488.2" r="2.3" fill="#17508c"/>
<line x1="54.6" y1="502.5" x2="54.6" y2="505.1" stroke="#231f20" stroke-width="0.9" />
<line x1="68.6" y1="502.5" x2="68.6" y2="505.1" stroke="#231f20" stroke-width="0.9" />
<path d="M54.7,440.5 L54.7,433.6 L68.8,433.6 L68.8,479.4" fill="none" stroke="#333" stroke-width="0.9"/>
<path d="M55.32,427.44 L55.84,428.47 L56.98,428.64 L56.15,429.44 L56.35,430.58 L55.32,430.04 L54.3,430.58 L54.5,429.44 L53.67,428.64 L54.81,428.47 Z" fill="#2a2a2a"/>
<path d="M59.47,427.44 L59.99,428.47 L61.13,428.64 L60.3,429.44 L60.5,430.58 L59.47,430.04 L58.45,430.58 L58.65,429.44 L57.82,428.64 L58.96,428.47 Z" fill="#2a2a2a"/>
<path d="M63.62,427.44 L64.14,428.47 L65.28,428.64 L64.45,429.44 L64.65,430.58 L63.62,430.04 L62.6,430.58 L62.8,429.44 L61.97,428.64 L63.11,428.47 Z" fill="#2a2a2a"/>
<path d="M67.77,427.44 L68.29,428.47 L69.43,428.64 L68.6,429.44 L68.8,430.58 L67.77,430.04 L66.75,430.58 L66.95,429.44 L66.12,428.64 L67.26,428.47 Z" fill="#2a2a2a"/>
<text x="62.1" y="515.25" font-size="8.2" text-anchor="middle" textLength="18.6" lengthAdjust="spacingAndGlyphs" fill="#333" stroke="#333" stroke-width="0.12">Day 3</text>
<text x="446.2" y="0" font-size="7.7" text-anchor="middle" textLength="90.4" lengthAdjust="spacingAndGlyphs" fill="#333" stroke="#333" stroke-width="0.12" transform="translate(23.67 446.2) rotate(-90) translate(-446.2 0)">% Syndecan-2<tspan dy="-3.08" font-size="5.24" stroke-width="0.1">+</tspan><tspan dy="3.08">​</tspan> (of 34<tspan dy="-3.08" font-size="5.24" stroke-width="0.1">–</tspan><tspan dy="3.08">​</tspan>KSL)</text>
<text x="87.1" y="389.7" font-size="11.3" font-weight="bold">G</text>
<line x1="126.1" y1="389.7" x2="126.1" y2="501.7" stroke="#231f20" stroke-width="1.0" />
<line x1="125.6" y1="501.2" x2="157.8" y2="501.2" stroke="#231f20" stroke-width="1.0" />
<line x1="123.1" y1="390.2" x2="126.1" y2="390.2" stroke="#231f20" stroke-width="0.9" />
<text x="120.6" y="392.86" font-size="7.4" text-anchor="end" fill="#333" stroke="#333" stroke-width="0.12">80</text>
<line x1="123.1" y1="417.95" x2="126.1" y2="417.95" stroke="#231f20" stroke-width="0.9" />
<text x="120.6" y="420.61" font-size="7.4" text-anchor="end" fill="#333" stroke="#333" stroke-width="0.12">60</text>
<line x1="123.1" y1="445.7" x2="126.1" y2="445.7" stroke="#231f20" stroke-width="0.9" />
<text x="120.6" y="448.36" font-size="7.4" text-anchor="end" fill="#333" stroke="#333" stroke-width="0.12">40</text>
<line x1="123.1" y1="473.45" x2="126.1" y2="473.45" stroke="#231f20" stroke-width="0.9" />
<text x="120.6" y="476.11" font-size="7.4" text-anchor="end" fill="#333" stroke="#333" stroke-width="0.12">20</text>
<line x1="123.1" y1="501.2" x2="126.1" y2="501.2" stroke="#231f20" stroke-width="0.9" />
<text x="120.6" y="503.86" font-size="7.4" text-anchor="end" fill="#333" stroke="#333" stroke-width="0.12">0</text>
<rect x="131.2" y="454" width="9.4" height="47.2" fill="#e2877c" stroke="#dc7468" stroke-width="0.5" />
<rect x="145.2" y="494" width="9.3" height="7.2" fill="#8b97c2" stroke="#7483b3" stroke-width="0.5" />
<line x1="135.9" y1="441.5" x2="135.9" y2="466.7" stroke="#b33" stroke-width="0.8" />
<line x1="134.2" y1="441.5" x2="137.6" y2="441.5" stroke="#b33" stroke-width="0.8" />
<line x1="134.2" y1="466.7" x2="137.6" y2="466.7" stroke="#b33" stroke-width="0.8" />
<circle cx="135.7" cy="419.8" r="2.3" fill="#d0112b"/>
<circle cx="135.7" cy="434.6" r="2.3" fill="#d0112b"/>
<circle cx="135.7" cy="453" r="2.3" fill="#d0112b"/>
<circle cx="135.7" cy="469.8" r="2.3" fill="#d0112b"/>
<circle cx="135.7" cy="493" r="2.3" fill="#d0112b"/>
<circle cx="149.6" cy="489.8" r="2.3" fill="#17508c"/>
<circle cx="147.8" cy="492.8" r="2.3" fill="#17508c"/>
<circle cx="151.6" cy="492.3" r="2.3" fill="#17508c"/>
<circle cx="149.3" cy="494.6" r="2.3" fill="#17508c"/>
<circle cx="152.4" cy="495.2" r="2.3" fill="#17508c"/>
<circle cx="146.8" cy="495.4" r="2.3" fill="#17508c"/>
<line x1="142.7" y1="501.2" x2="142.7" y2="503.8" stroke="#231f20" stroke-width="0.9" />
<path d="M135.5,413.3 L135.5,406.4 L149.5,406.4 L149.5,483.8" fill="none" stroke="#333" stroke-width="0.9"/>
<path d="M142.6,400.29 L143.13,401.35 L144.3,401.53 L143.45,402.36 L143.65,403.53 L142.6,402.98 L141.55,403.53 L141.75,402.36 L140.9,401.53 L142.07,401.35 Z" fill="#2a2a2a"/>
<text x="143.8" y="513.95" font-size="8.2" text-anchor="middle" textLength="18.6" lengthAdjust="spacingAndGlyphs" fill="#333" stroke="#333" stroke-width="0.12">Day 7</text>
<text x="445.5" y="0" font-size="7.7" text-anchor="middle" textLength="90.5" lengthAdjust="spacingAndGlyphs" fill="#333" stroke="#333" stroke-width="0.12" transform="translate(104.67 445.5) rotate(-90) translate(-445.5 0)">% Syndecan-2<tspan dy="-3.08" font-size="5.24" stroke-width="0.1">+</tspan><tspan dy="3.08">​</tspan> (of 34<tspan dy="-3.08" font-size="5.24" stroke-width="0.1">–</tspan><tspan dy="3.08">​</tspan>KSL)</text>
<text x="167.3" y="390" font-size="11.3" font-weight="bold">H</text>
<line x1="214.3" y1="394.8" x2="214.3" y2="504.9" stroke="#231f20" stroke-width="1.0" />
<line x1="213.8" y1="504.4" x2="246.8" y2="504.4" stroke="#231f20" stroke-width="1.0" />
<line x1="211.3" y1="395.3" x2="214.3" y2="395.3" stroke="#231f20" stroke-width="0.9" />
<text x="208.8" y="397.96" font-size="7.4" text-anchor="end" textLength="17.4" lengthAdjust="spacingAndGlyphs" fill="#333" stroke="#333" stroke-width="0.12">8000</text>
<line x1="211.3" y1="422.58" x2="214.3" y2="422.58" stroke="#231f20" stroke-width="0.9" />
<text x="208.8" y="425.24" font-size="7.4" text-anchor="end" textLength="17.4" lengthAdjust="spacingAndGlyphs" fill="#333" stroke="#333" stroke-width="0.12">6000</text>
<line x1="211.3" y1="449.86" x2="214.3" y2="449.86" stroke="#231f20" stroke-width="0.9" />
<text x="208.8" y="452.52" font-size="7.4" text-anchor="end" textLength="17.4" lengthAdjust="spacingAndGlyphs" fill="#333" stroke="#333" stroke-width="0.12">4000</text>
<line x1="211.3" y1="477.14" x2="214.3" y2="477.14" stroke="#231f20" stroke-width="0.9" />
<text x="208.8" y="479.8" font-size="7.4" text-anchor="end" textLength="17.4" lengthAdjust="spacingAndGlyphs" fill="#333" stroke="#333" stroke-width="0.12">2000</text>
<line x1="211.3" y1="504.42" x2="214.3" y2="504.42" stroke="#231f20" stroke-width="0.9" />
<text x="208.8" y="507.08" font-size="7.4" text-anchor="end" fill="#333" stroke="#333" stroke-width="0.12">0</text>
<rect x="219.2" y="502.4" width="8.8" height="2" fill="#e2877c" stroke="#dc7468" stroke-width="0.5" />
<rect x="232.8" y="452.9" width="8.95" height="51.5" fill="#8b97c2" stroke="#7483b3" stroke-width="0.5" />
<line x1="237.3" y1="422.7" x2="237.3" y2="482.4" stroke="#4a7fb5" stroke-width="0.9" />
<line x1="235.3" y1="422.7" x2="239.3" y2="422.7" stroke="#4a7fb5" stroke-width="0.9" />
<line x1="235.3" y1="482.4" x2="239.3" y2="482.4" stroke="#4a7fb5" stroke-width="0.9" />
<circle cx="221.5" cy="502.6" r="2.3" fill="#d0112b"/>
<circle cx="224.5" cy="503.4" r="2.3" fill="#d0112b"/>
<circle cx="226.2" cy="501.8" r="2.3" fill="#d0112b"/>
<circle cx="222.8" cy="500.4" r="2.3" fill="#d0112b"/>
<circle cx="225" cy="500.6" r="2.3" fill="#d0112b"/>
<circle cx="220.3" cy="503.6" r="2.3" fill="#d0112b"/>
<circle cx="237.1" cy="414.1" r="2.3" fill="#17508c"/>
<circle cx="235.5" cy="442.6" r="2.3" fill="#17508c"/>
<circle cx="238.7" cy="442.6" r="2.3" fill="#17508c"/>
<circle cx="237.1" cy="474.8" r="2.3" fill="#17508c"/>
<circle cx="237.1" cy="489.2" r="2.3" fill="#17508c"/>
<line x1="237.3" y1="504.4" x2="237.3" y2="507" stroke="#231f20" stroke-width="0.9" />
<path d="M223.1,494.9 L223.1,401 L237.5,401 L237.5,408" fill="none" stroke="#333" stroke-width="0.9"/>
<path d="M230.5,394.99 L231.03,396.05 L232.2,396.23 L231.35,397.06 L231.55,398.23 L230.5,397.68 L229.45,398.23 L229.65,397.06 L228.8,396.23 L229.97,396.05 Z" fill="#2a2a2a"/>
<text x="230.65" y="516.95" font-size="8.2" text-anchor="middle" textLength="18.6" lengthAdjust="spacingAndGlyphs" fill="#333" stroke="#333" stroke-width="0.12">Day 7</text>
<text x="449.6" y="0" font-size="7.7" text-anchor="middle" textLength="88.4" lengthAdjust="spacingAndGlyphs" fill="#333" stroke="#333" stroke-width="0.12" transform="translate(183.77 449.6) rotate(-90) translate(-449.6 0)"># 34<tspan dy="-3.08" font-size="5.24" stroke-width="0.1">–</tspan><tspan dy="3.08">​</tspan>KSL Syndecan-2<tspan dy="-3.08" font-size="5.24" stroke-width="0.1">–</tspan><tspan dy="3.08">​</tspan> cells</text>
<text x="255.7" y="391.6" font-size="11.3" font-weight="bold">I</text>
<line x1="293.4" y1="396" x2="293.4" y2="505.9" stroke="#231f20" stroke-width="1.0" />
<line x1="292.9" y1="505.4" x2="325.4" y2="505.4" stroke="#231f20" stroke-width="1.0" />
<line x1="290.4" y1="396.5" x2="293.4" y2="396.5" stroke="#231f20" stroke-width="0.9" />
<text x="287.1" y="399.16" font-size="7.4" text-anchor="end" textLength="12.6" lengthAdjust="spacingAndGlyphs" fill="#333" stroke="#333" stroke-width="0.12">400</text>
<line x1="290.4" y1="423.72" x2="293.4" y2="423.72" stroke="#231f20" stroke-width="0.9" />
<text x="287.1" y="426.38" font-size="7.4" text-anchor="end" textLength="12.6" lengthAdjust="spacingAndGlyphs" fill="#333" stroke="#333" stroke-width="0.12">300</text>
<line x1="290.4" y1="450.94" x2="293.4" y2="450.94" stroke="#231f20" stroke-width="0.9" />
<text x="287.1" y="453.6" font-size="7.4" text-anchor="end" textLength="12.6" lengthAdjust="spacingAndGlyphs" fill="#333" stroke="#333" stroke-width="0.12">200</text>
<line x1="290.4" y1="478.16" x2="293.4" y2="478.16" stroke="#231f20" stroke-width="0.9" />
<text x="287.1" y="480.82" font-size="7.4" text-anchor="end" textLength="12.6" lengthAdjust="spacingAndGlyphs" fill="#333" stroke="#333" stroke-width="0.12">100</text>
<line x1="290.4" y1="505.38" x2="293.4" y2="505.38" stroke="#231f20" stroke-width="0.9" />
<text x="287.1" y="508.04" font-size="7.4" text-anchor="end" fill="#333" stroke="#333" stroke-width="0.12">0</text>
<rect x="297.9" y="495.4" width="8.6" height="10" fill="#e2877c" stroke="#dc7468" stroke-width="0.5" />
<rect x="311.4" y="444.2" width="8.6" height="61.2" fill="#8b97c2" stroke="#7483b3" stroke-width="0.5" />
<line x1="315.7" y1="412.7" x2="315.7" y2="475.2" stroke="#3a6aa8" stroke-width="0.9" />
<line x1="313.7" y1="412.7" x2="317.7" y2="412.7" stroke="#3a6aa8" stroke-width="0.9" />
<line x1="313.7" y1="475.2" x2="317.7" y2="475.2" stroke="#3a6aa8" stroke-width="0.9" />
<line x1="302.2" y1="490" x2="302.2" y2="500" stroke="#c55" stroke-width="0.7" />
<circle cx="303.8" cy="487.9" r="2.3" fill="#d0112b"/>
<circle cx="299.8" cy="491.9" r="2.3" fill="#d0112b"/>
<circle cx="303" cy="494" r="2.3" fill="#d0112b"/>
<circle cx="301.7" cy="503" r="2.3" fill="#d0112b"/>
<circle cx="315.6" cy="407.8" r="2.3" fill="#17508c"/>
<circle cx="315.6" cy="423.7" r="2.3" fill="#17508c"/>
<circle cx="315.6" cy="444.8" r="2.3" fill="#17508c"/>
<circle cx="315.6" cy="455" r="2.3" fill="#17508c"/>
<circle cx="315.6" cy="489.2" r="2.3" fill="#17508c"/>
<line x1="309" y1="505.4" x2="309" y2="507.9" stroke="#231f20" stroke-width="0.9" />
<path d="M302.1,487.3 L302.1,395.4 L315.6,395.4 L315.6,401.2" fill="none" stroke="#333" stroke-width="0.9"/>
<path d="M309.2,388.79 L309.73,389.85 L310.9,390.03 L310.05,390.86 L310.25,392.03 L309.2,391.48 L308.15,392.03 L308.35,390.86 L307.5,390.03 L308.67,389.85 Z" fill="#2a2a2a"/>
<text x="309.2" y="518.55" font-size="8.2" text-anchor="middle" textLength="18.6" lengthAdjust="spacingAndGlyphs" fill="#333" stroke="#333" stroke-width="0.12">Day 7</text>
<text x="450.5" y="0" font-size="7.7" text-anchor="middle" textLength="90" lengthAdjust="spacingAndGlyphs" fill="#333" stroke="#333" stroke-width="0.12" transform="translate(266.77 450.5) rotate(-90) translate(-450.5 0)"># 34<tspan dy="-3.08" font-size="5.24" stroke-width="0.1">–</tspan><tspan dy="3.08">​</tspan>KSL Syndecan-2<tspan dy="-3.08" font-size="5.24" stroke-width="0.1">+</tspan><tspan dy="3.08">​</tspan> cells</text>
<text x="347.3" y="390" font-size="11.3" font-weight="bold">J</text>
<line x1="387.5" y1="397" x2="387.5" y2="505.1" stroke="#231f20" stroke-width="1.0" />
<line x1="387" y1="504.6" x2="419.8" y2="504.6" stroke="#231f20" stroke-width="1.0" />
<line x1="384.5" y1="397.5" x2="387.5" y2="397.5" stroke="#231f20" stroke-width="0.9" />
<text x="381.6" y="400.16" font-size="7.4" text-anchor="end" fill="#333" stroke="#333" stroke-width="0.12">80</text>
<line x1="384.5" y1="424.28" x2="387.5" y2="424.28" stroke="#231f20" stroke-width="0.9" />
<text x="381.6" y="426.94" font-size="7.4" text-anchor="end" fill="#333" stroke="#333" stroke-width="0.12">60</text>
<line x1="384.5" y1="451.06" x2="387.5" y2="451.06" stroke="#231f20" stroke-width="0.9" />
<text x="381.6" y="453.72" font-size="7.4" text-anchor="end" fill="#333" stroke="#333" stroke-width="0.12">40</text>
<line x1="384.5" y1="477.84" x2="387.5" y2="477.84" stroke="#231f20" stroke-width="0.9" />
<text x="381.6" y="480.5" font-size="7.4" text-anchor="end" fill="#333" stroke="#333" stroke-width="0.12">20</text>
<line x1="384.5" y1="504.62" x2="387.5" y2="504.62" stroke="#231f20" stroke-width="0.9" />
<text x="381.6" y="507.28" font-size="7.4" text-anchor="end" fill="#333" stroke="#333" stroke-width="0.12">0</text>
<rect x="392.1" y="496" width="8.9" height="8.6" fill="#e2877c" stroke="#dc7468" stroke-width="0.5" />
<rect x="406.5" y="473.2" width="9.3" height="31.4" fill="#8b97c2" stroke="#7483b3" stroke-width="0.5" />
<circle cx="397" cy="459.8" r="2.3" fill="#d0112b"/>
<circle cx="397" cy="478.1" r="2.3" fill="#d0112b"/>
<circle cx="394.4" cy="504.3" r="2.3" fill="#d0112b"/>
<circle cx="399" cy="504.3" r="2.3" fill="#d0112b"/>
<circle cx="410.9" cy="428.1" r="2.3" fill="#17508c"/>
<circle cx="410.9" cy="442.5" r="2.3" fill="#17508c"/>
<circle cx="410.9" cy="461.7" r="2.3" fill="#17508c"/>
<circle cx="409.1" cy="472.5" r="2.3" fill="#17508c"/>
<circle cx="412.9" cy="474.8" r="2.3" fill="#17508c"/>
<circle cx="409.1" cy="480.4" r="2.3" fill="#17508c"/>
<circle cx="412.7" cy="484.4" r="2.3" fill="#17508c"/>
<circle cx="409.1" cy="491" r="2.3" fill="#17508c"/>
<circle cx="412.9" cy="493.1" r="2.3" fill="#17508c"/>
<circle cx="411.2" cy="501.2" r="2.3" fill="#17508c"/>
<line x1="396.4" y1="504.6" x2="396.4" y2="507.2" stroke="#231f20" stroke-width="0.9" />
<line x1="411.2" y1="504.6" x2="411.2" y2="507.2" stroke="#231f20" stroke-width="0.9" />
<path d="M396.4,453 L396.4,414 L411.2,414 L411.2,420.6" fill="none" stroke="#333" stroke-width="0.9"/>
<path d="M403.7,407.39 L404.23,408.45 L405.4,408.63 L404.55,409.46 L404.75,410.63 L403.7,410.08 L402.65,410.63 L402.85,409.46 L402,408.63 L403.17,408.45 Z" fill="#2a2a2a"/>
<text x="450.7" y="0" font-size="8.3" text-anchor="middle" textLength="50.7" lengthAdjust="spacingAndGlyphs" fill="#333" stroke="#333" stroke-width="0.12" transform="translate(355.79 450.7) rotate(-90) translate(-450.7 0)">% Syndecan-2<tspan dy="-3.32" font-size="5.64" stroke-width="0.1">+</tspan><tspan dy="3.32">​</tspan></text>
<text x="450.7" y="0" font-size="8.3" text-anchor="middle" textLength="58.5" lengthAdjust="spacingAndGlyphs" fill="#333" stroke="#333" stroke-width="0.12" transform="translate(366.99 450.7) rotate(-90) translate(-450.7 0)">(of donor 34<tspan dy="-3.32" font-size="5.64" stroke-width="0.1">–</tspan><tspan dy="3.32">​</tspan>KSL)</text>
<line x1="478.5" y1="397" x2="478.5" y2="505.3" stroke="#231f20" stroke-width="1.0" />
<line x1="478" y1="504.8" x2="510.7" y2="504.8" stroke="#231f20" stroke-width="1.0" />
<line x1="475.5" y1="397.5" x2="478.5" y2="397.5" stroke="#231f20" stroke-width="0.9" />
<text x="472.6" y="400.16" font-size="7.4" text-anchor="end" textLength="17.4" lengthAdjust="spacingAndGlyphs" fill="#333" stroke="#333" stroke-width="0.12">4000</text>
<line x1="475.5" y1="424.33" x2="478.5" y2="424.33" stroke="#231f20" stroke-width="0.9" />
<text x="472.6" y="426.99" font-size="7.4" text-anchor="end" textLength="17.4" lengthAdjust="spacingAndGlyphs" fill="#333" stroke="#333" stroke-width="0.12">3000</text>
<line x1="475.5" y1="451.16" x2="478.5" y2="451.16" stroke="#231f20" stroke-width="0.9" />
<text x="472.6" y="453.82" font-size="7.4" text-anchor="end" textLength="17.4" lengthAdjust="spacingAndGlyphs" fill="#333" stroke="#333" stroke-width="0.12">2000</text>
<line x1="475.5" y1="477.99" x2="478.5" y2="477.99" stroke="#231f20" stroke-width="0.9" />
<text x="472.6" y="480.65" font-size="7.4" text-anchor="end" textLength="17.4" lengthAdjust="spacingAndGlyphs" fill="#333" stroke="#333" stroke-width="0.12">1000</text>
<line x1="475.5" y1="504.82" x2="478.5" y2="504.82" stroke="#231f20" stroke-width="0.9" />
<text x="472.6" y="507.48" font-size="7.4" text-anchor="end" fill="#333" stroke="#333" stroke-width="0.12">0</text>
<rect x="484.5" y="502.5" width="6.5" height="2.3" fill="#e2877c" stroke="#dc7468" stroke-width="0.5" />
<rect x="499.1" y="475.2" width="8.7" height="29.6" fill="#8b97c2" stroke="#7483b3" stroke-width="0.5" />
<circle cx="486.6" cy="499.7" r="2.3" fill="#d0112b"/>
<circle cx="484.7" cy="503.6" r="2.3" fill="#d0112b"/>
<circle cx="490.5" cy="504.3" r="2.3" fill="#d0112b"/>
<circle cx="487.6" cy="502.6" r="2.3" fill="#d0112b"/>
<circle cx="503.6" cy="413.1" r="2.3" fill="#17508c"/>
<circle cx="503.6" cy="439.4" r="2.3" fill="#17508c"/>
<circle cx="502" cy="474.2" r="2.3" fill="#17508c"/>
<circle cx="505.9" cy="476.6" r="2.3" fill="#17508c"/>
<circle cx="503.5" cy="478.6" r="2.3" fill="#17508c"/>
<circle cx="501.3" cy="488.2" r="2.3" fill="#17508c"/>
<circle cx="505.9" cy="493" r="2.3" fill="#17508c"/>
<circle cx="503.5" cy="495.9" r="2.3" fill="#17508c"/>
<circle cx="505.9" cy="498.75" r="2.3" fill="#17508c"/>
<circle cx="502" cy="501.2" r="2.3" fill="#17508c"/>
<line x1="487.3" y1="504.8" x2="487.3" y2="507.4" stroke="#231f20" stroke-width="0.9" />
<line x1="503.5" y1="504.8" x2="503.5" y2="507.4" stroke="#231f20" stroke-width="0.9" />
<path d="M488.4,492 L488.4,398.7 L503.7,398.7 L503.7,405.6" fill="none" stroke="#333" stroke-width="0.9"/>
<path d="M493.3,392.19 L493.83,393.25 L495,393.43 L494.15,394.26 L494.35,395.43 L493.3,394.88 L492.25,395.43 L492.45,394.26 L491.6,393.43 L492.77,393.25 Z" fill="#2a2a2a"/>
<path d="M497.5,392.19 L498.03,393.25 L499.2,393.43 L498.35,394.26 L498.55,395.43 L497.5,394.88 L496.45,395.43 L496.65,394.26 L495.8,393.43 L496.97,393.25 Z" fill="#2a2a2a"/>
<text x="448" y="0" font-size="8.3" text-anchor="middle" textLength="35.4" lengthAdjust="spacingAndGlyphs" fill="#333" stroke="#333" stroke-width="0.12" transform="translate(437.59 448) rotate(-90) translate(-448 0)"># donor BM</text>
<text x="450.3" y="0" font-size="8.3" text-anchor="middle" textLength="65.7" lengthAdjust="spacingAndGlyphs" fill="#333" stroke="#333" stroke-width="0.12" transform="translate(448.99 450.3) rotate(-90) translate(-450.3 0)">34<tspan dy="-3.32" font-size="5.64" stroke-width="0.1">–</tspan><tspan dy="3.32">​</tspan>KSL Sdc2<tspan dy="-3.32" font-size="5.64" stroke-width="0.1">+</tspan><tspan dy="3.32">​</tspan> HSCs</text>
<text x="7" y="545.5" font-size="11.3" font-weight="bold">K</text>
<text x="39.4" y="546.8" font-size="9.2" textLength="53.2" lengthAdjust="spacingAndGlyphs" stroke="#231f20" stroke-width="0.05">Sdc2<tspan dy="-3.68" font-size="6.26" stroke-width="0.1">–</tspan><tspan dy="3.68">​</tspan> HSCs:</text>
<line x1="35.9" y1="563" x2="38.3" y2="563" stroke="#231f20" stroke-width="0.7" />
<line x1="35.9" y1="575" x2="38.3" y2="575" stroke="#231f20" stroke-width="0.7" />
<line x1="35.9" y1="590.5" x2="38.3" y2="590.5" stroke="#231f20" stroke-width="0.7" />
<line x1="35.9" y1="604.5" x2="38.3" y2="604.5" stroke="#231f20" stroke-width="0.7" />
<line x1="35.9" y1="619.5" x2="38.3" y2="619.5" stroke="#231f20" stroke-width="0.7" />
<line x1="37" y1="553" x2="38.3" y2="553" stroke="#231f20" stroke-width="0.45" />
<line x1="37" y1="556" x2="38.3" y2="556" stroke="#231f20" stroke-width="0.45" />
<line x1="37" y1="558.5" x2="38.3" y2="558.5" stroke="#231f20" stroke-width="0.45" />
<line x1="37" y1="560.5" x2="38.3" y2="560.5" stroke="#231f20" stroke-width="0.45" />
<line x1="37" y1="565" x2="38.3" y2="565" stroke="#231f20" stroke-width="0.45" />
<line x1="37" y1="567.5" x2="38.3" y2="567.5" stroke="#231f20" stroke-width="0.45" />
<line x1="37" y1="570" x2="38.3" y2="570" stroke="#231f20" stroke-width="0.45" />
<line x1="37" y1="572" x2="38.3" y2="572" stroke="#231f20" stroke-width="0.45" />
<line x1="37" y1="578" x2="38.3" y2="578" stroke="#231f20" stroke-width="0.45" />
<line x1="37" y1="581" x2="38.3" y2="581" stroke="#231f20" stroke-width="0.45" />
<line x1="37" y1="583.5" x2="38.3" y2="583.5" stroke="#231f20" stroke-width="0.45" />
<line x1="37" y1="586" x2="38.3" y2="586" stroke="#231f20" stroke-width="0.45" />
<line x1="37" y1="588" x2="38.3" y2="588" stroke="#231f20" stroke-width="0.45" />
<line x1="37" y1="593" x2="38.3" y2="593" stroke="#231f20" stroke-width="0.45" />
<line x1="37" y1="596" x2="38.3" y2="596" stroke="#231f20" stroke-width="0.45" />
<line x1="37" y1="599" x2="38.3" y2="599" stroke="#231f20" stroke-width="0.45" />
<line x1="37" y1="602" x2="38.3" y2="602" stroke="#231f20" stroke-width="0.45" />
<line x1="37" y1="607" x2="38.3" y2="607" stroke="#231f20" stroke-width="0.45" />
<line x1="37" y1="610" x2="38.3" y2="610" stroke="#231f20" stroke-width="0.45" />
<line x1="37" y1="613" x2="38.3" y2="613" stroke="#231f20" stroke-width="0.45" />
<line x1="37" y1="616" x2="38.3" y2="616" stroke="#231f20" stroke-width="0.45" />
<text x="34" y="565.23" font-size="6.2" text-anchor="end" textLength="8.2" lengthAdjust="spacingAndGlyphs" fill="#444" stroke="#444" stroke-width="0.12">10<tspan dy="-2.48" font-size="4.22" stroke-width="0.1">6</tspan><tspan dy="2.48">​</tspan></text>
<text x="34" y="577.23" font-size="6.2" text-anchor="end" textLength="8.2" lengthAdjust="spacingAndGlyphs" fill="#444" stroke="#444" stroke-width="0.12">10<tspan dy="-2.48" font-size="4.22" stroke-width="0.1">5</tspan><tspan dy="2.48">​</tspan></text>
<text x="34" y="592.73" font-size="6.2" text-anchor="end" textLength="8.2" lengthAdjust="spacingAndGlyphs" fill="#444" stroke="#444" stroke-width="0.12">10<tspan dy="-2.48" font-size="4.22" stroke-width="0.1">4</tspan><tspan dy="2.48">​</tspan></text>
<text x="34" y="606.73" font-size="6.2" text-anchor="end" fill="#444" stroke="#444" stroke-width="0.12">0</text>
<text x="34" y="621.73" font-size="6.2" text-anchor="end" textLength="11" lengthAdjust="spacingAndGlyphs" fill="#444" stroke="#444" stroke-width="0.12">–10<tspan dy="-2.48" font-size="4.22" stroke-width="0.1">4</tspan><tspan dy="2.48">​</tspan></text>
<line x1="49.3" y1="623" x2="49.3" y2="625.4" stroke="#231f20" stroke-width="0.7" />
<line x1="72.1" y1="623" x2="72.1" y2="625.4" stroke="#231f20" stroke-width="0.7" />
<line x1="93.1" y1="623" x2="93.1" y2="625.4" stroke="#231f20" stroke-width="0.7" />
<line x1="43.8" y1="623" x2="43.8" y2="624.3" stroke="#231f20" stroke-width="0.45" />
<line x1="54.8" y1="623" x2="54.8" y2="624.3" stroke="#231f20" stroke-width="0.45" />
<line x1="60.6" y1="623" x2="60.6" y2="624.3" stroke="#231f20" stroke-width="0.45" />
<line x1="66.3" y1="623" x2="66.3" y2="624.3" stroke="#231f20" stroke-width="0.45" />
<line x1="77.8" y1="623" x2="77.8" y2="624.3" stroke="#231f20" stroke-width="0.45" />
<line x1="83.3" y1="623" x2="83.3" y2="624.3" stroke="#231f20" stroke-width="0.45" />
<line x1="88.8" y1="623" x2="88.8" y2="624.3" stroke="#231f20" stroke-width="0.45" />
<line x1="98.8" y1="623" x2="98.8" y2="624.3" stroke="#231f20" stroke-width="0.45" />
<line x1="104.3" y1="623" x2="104.3" y2="624.3" stroke="#231f20" stroke-width="0.45" />
<text x="49.3" y="632.23" font-size="6.2" text-anchor="middle" fill="#444" stroke="#444" stroke-width="0.12">0</text>
<text x="72.1" y="632.23" font-size="6.2" text-anchor="middle" textLength="10" lengthAdjust="spacingAndGlyphs" fill="#444" stroke="#444" stroke-width="0.12">10K</text>
<text x="93.1" y="632.23" font-size="6.2" text-anchor="middle" textLength="10" lengthAdjust="spacingAndGlyphs" fill="#444" stroke="#444" stroke-width="0.12">20K</text>
<text x="40.9" y="558.76" font-size="7.4" textLength="58.4" lengthAdjust="spacingAndGlyphs" fill="#333" stroke="#333" stroke-width="0.12">Gated on 34<tspan dy="-2.96" font-size="5.03" stroke-width="0.1">–</tspan><tspan dy="2.96">​</tspan> KSL</text>
<text x="587.1" y="0" font-size="9.2" text-anchor="middle" textLength="17.9" lengthAdjust="spacingAndGlyphs" fill="#333" stroke="#333" stroke-width="0.12" transform="translate(22.01 587.1) rotate(-90) translate(-587.1 0)">Ki-67</text>
<rect x="46.3" y="562.9" width="20.2" height="23.6" fill="none" stroke="#8a8a8a" stroke-width="0.8" />
<rect x="66.5" y="562.9" width="27.7" height="23.6" fill="none" stroke="#8a8a8a" stroke-width="0.8" />
<rect x="46.3" y="586.5" width="20.2" height="24.3" fill="none" stroke="#8a8a8a" stroke-width="0.8" />
<ellipse cx="60.8" cy="591.2" rx="4.42" ry="4.82" fill="#13379f"/>
<ellipse cx="59.8" cy="601.5" rx="4.62" ry="4.62" fill="#13379f"/>
<ellipse cx="60.3" cy="596.4" rx="2.58" ry="3.28" fill="#13379f"/>
<ellipse cx="57.4" cy="587.2" rx="2.16" ry="2.06" fill="#13379f"/>
<ellipse cx="62.6" cy="586.2" rx="2.28" ry="2.18" fill="#13379f"/>
<ellipse cx="64.8" cy="584.8" rx="2.92" ry="2.82" fill="#13379f"/>
<ellipse cx="55" cy="603.6" rx="1.96" ry="1.86" fill="#13379f"/>
<ellipse cx="57" cy="604.8" rx="2.28" ry="2.08" fill="#13379f"/>
<ellipse cx="68.8" cy="598.3" rx="2.06" ry="2.06" fill="#13379f"/>
<ellipse cx="70.6" cy="600.3" rx="1.86" ry="1.86" fill="#13379f"/>
<ellipse cx="66.5" cy="601.5" rx="1.98" ry="1.98" fill="#13379f"/>
<ellipse cx="73.5" cy="602.7" rx="2.3" ry="2.6" fill="#13379f"/>
<ellipse cx="81" cy="590.6" rx="1.86" ry="1.86" fill="#13379f"/>
<ellipse cx="89" cy="603.3" rx="1.86" ry="1.86" fill="#13379f"/>
<ellipse cx="60.8" cy="591.2" rx="4.1" ry="4.5" fill="#1f60d4"/>
<ellipse cx="59.8" cy="601.5" rx="4.3" ry="4.3" fill="#1f60d4"/>
<ellipse cx="60.3" cy="596.4" rx="2.26" ry="2.96" fill="#1f60d4"/>
<ellipse cx="57.4" cy="587.2" rx="1.84" ry="1.74" fill="#1f60d4"/>
<ellipse cx="62.6" cy="586.2" rx="1.96" ry="1.86" fill="#1f60d4"/>
<ellipse cx="64.8" cy="584.8" rx="2.6" ry="2.5" fill="#1f60d4"/>
<ellipse cx="55" cy="603.6" rx="1.64" ry="1.54" fill="#1f60d4"/>
<ellipse cx="57" cy="604.8" rx="1.96" ry="1.76" fill="#1f60d4"/>
<ellipse cx="68.8" cy="598.3" rx="1.74" ry="1.74" fill="#1f60d4"/>
<ellipse cx="70.6" cy="600.3" rx="1.54" ry="1.54" fill="#1f60d4"/>
<ellipse cx="66.5" cy="601.5" rx="1.66" ry="1.66" fill="#1f60d4"/>
<ellipse cx="73.5" cy="602.7" rx="1.98" ry="2.28" fill="#1f60d4"/>
<ellipse cx="81" cy="590.6" rx="1.54" ry="1.54" fill="#1f60d4"/>
<ellipse cx="89" cy="603.3" rx="1.54" ry="1.54" fill="#1f60d4"/>
<ellipse cx="60.8" cy="591.2" rx="3.78" ry="4.18" fill="#2ec4ee"/>
<ellipse cx="59.8" cy="601.5" rx="3.98" ry="3.98" fill="#2ec4ee"/>
<ellipse cx="60.3" cy="596.4" rx="1.94" ry="2.64" fill="#2ec4ee"/>
<ellipse cx="57.4" cy="587.2" rx="1.52" ry="1.42" fill="#2ec4ee"/>
<ellipse cx="62.6" cy="586.2" rx="1.64" ry="1.54" fill="#2ec4ee"/>
<ellipse cx="64.8" cy="584.8" rx="2.28" ry="2.18" fill="#2ec4ee"/>
<ellipse cx="55" cy="603.6" rx="1.32" ry="1.22" fill="#2ec4ee"/>
<ellipse cx="57" cy="604.8" rx="1.64" ry="1.44" fill="#2ec4ee"/>
<ellipse cx="68.8" cy="598.3" rx="1.42" ry="1.42" fill="#2ec4ee"/>
<ellipse cx="70.6" cy="600.3" rx="1.22" ry="1.22" fill="#2ec4ee"/>
<ellipse cx="66.5" cy="601.5" rx="1.34" ry="1.34" fill="#2ec4ee"/>
<ellipse cx="73.5" cy="602.7" rx="1.66" ry="1.96" fill="#2ec4ee"/>
<ellipse cx="81" cy="590.6" rx="1.22" ry="1.22" fill="#2ec4ee"/>
<ellipse cx="89" cy="603.3" rx="1.22" ry="1.22" fill="#2ec4ee"/>
<ellipse cx="60.8" cy="591.2" rx="3.46" ry="3.86" fill="#45bb2c"/>
<ellipse cx="59.8" cy="601.5" rx="3.66" ry="3.66" fill="#45bb2c"/>
<ellipse cx="60.3" cy="596.4" rx="1.62" ry="2.32" fill="#45bb2c"/>
<ellipse cx="57.4" cy="587.2" rx="1.2" ry="1.1" fill="#45bb2c"/>
<ellipse cx="62.6" cy="586.2" rx="1.32" ry="1.22" fill="#45bb2c"/>
<ellipse cx="64.8" cy="584.8" rx="1.96" ry="1.86" fill="#45bb2c"/>
<ellipse cx="55" cy="603.6" rx="1" ry="0.9" fill="#45bb2c"/>
<ellipse cx="57" cy="604.8" rx="1.32" ry="1.12" fill="#45bb2c"/>
<ellipse cx="68.8" cy="598.3" rx="1.1" ry="1.1" fill="#45bb2c"/>
<ellipse cx="70.6" cy="600.3" rx="0.9" ry="0.9" fill="#45bb2c"/>
<ellipse cx="66.5" cy="601.5" rx="1.02" ry="1.02" fill="#45bb2c"/>
<ellipse cx="73.5" cy="602.7" rx="1.34" ry="1.64" fill="#45bb2c"/>
<ellipse cx="81" cy="590.6" rx="0.9" ry="0.9" fill="#45bb2c"/>
<ellipse cx="89" cy="603.3" rx="0.9" ry="0.9" fill="#45bb2c"/>
<ellipse cx="60.8" cy="591.2" rx="3.14" ry="3.54" fill="#f3e300"/>
<ellipse cx="59.8" cy="601.5" rx="3.34" ry="3.34" fill="#f3e300"/>
<ellipse cx="60.3" cy="596.4" rx="1.3" ry="2" fill="#f3e300"/>
<ellipse cx="62.6" cy="586.2" rx="1" ry="0.9" fill="#f3e300"/>
<ellipse cx="64.8" cy="584.8" rx="1.64" ry="1.54" fill="#f3e300"/>
<ellipse cx="57" cy="604.8" rx="1" ry="0.8" fill="#f3e300"/>
<ellipse cx="66.5" cy="601.5" rx="0.7" ry="0.7" fill="#f3e300"/>
<ellipse cx="73.5" cy="602.7" rx="1.02" ry="1.32" fill="#f3e300"/>
<ellipse cx="60.8" cy="591.2" rx="2.82" ry="3.22" fill="#f89a10"/>
<ellipse cx="59.8" cy="601.5" rx="3.02" ry="3.02" fill="#f89a10"/>
<ellipse cx="64.8" cy="584.8" rx="1.32" ry="1.22" fill="#f89a10"/>
<ellipse cx="73.5" cy="602.7" rx="0.7" ry="1" fill="#f89a10"/>
<ellipse cx="60.8" cy="591.2" rx="2.5" ry="2.9" fill="#f01414"/>
<ellipse cx="59.8" cy="601.5" rx="2.7" ry="2.7" fill="#f01414"/>
<ellipse cx="64.8" cy="584.8" rx="1" ry="0.9" fill="#f01414"/>
<line x1="46.3" y1="586.5" x2="66.5" y2="586.5" stroke="#333" stroke-width="1.1" />
<line x1="66.5" y1="562.9" x2="66.5" y2="610.8" stroke="#333" stroke-width="1.1" />
<text x="53.5" y="571.29" font-size="7.2" text-anchor="middle" textLength="10" lengthAdjust="spacingAndGlyphs" fill="#333" stroke="#333" stroke-width="0.12">9%</text>
<text x="55.5" y="618.89" font-size="7.2" text-anchor="middle" textLength="13.5" lengthAdjust="spacingAndGlyphs" fill="#333" stroke="#333" stroke-width="0.12">70%</text>
<rect x="38.3" y="550.8" width="72.7" height="72.2" fill="none" stroke="#231f20" stroke-width="1.25" />
<text x="129.4" y="546.8" font-size="9.2" textLength="55" lengthAdjust="spacingAndGlyphs" stroke="#231f20" stroke-width="0.05">Sdc2<tspan dy="-3.68" font-size="6.26" stroke-width="0.1">+</tspan><tspan dy="3.68">​</tspan> HSCs:</text>
<line x1="125.9" y1="563" x2="128.3" y2="563" stroke="#231f20" stroke-width="0.7" />
<line x1="125.9" y1="575" x2="128.3" y2="575" stroke="#231f20" stroke-width="0.7" />
<line x1="125.9" y1="590.5" x2="128.3" y2="590.5" stroke="#231f20" stroke-width="0.7" />
<line x1="125.9" y1="604.5" x2="128.3" y2="604.5" stroke="#231f20" stroke-width="0.7" />
<line x1="125.9" y1="619.5" x2="128.3" y2="619.5" stroke="#231f20" stroke-width="0.7" />
<line x1="127" y1="553" x2="128.3" y2="553" stroke="#231f20" stroke-width="0.45" />
<line x1="127" y1="556" x2="128.3" y2="556" stroke="#231f20" stroke-width="0.45" />
<line x1="127" y1="558.5" x2="128.3" y2="558.5" stroke="#231f20" stroke-width="0.45" />
<line x1="127" y1="560.5" x2="128.3" y2="560.5" stroke="#231f20" stroke-width="0.45" />
<line x1="127" y1="565" x2="128.3" y2="565" stroke="#231f20" stroke-width="0.45" />
<line x1="127" y1="567.5" x2="128.3" y2="567.5" stroke="#231f20" stroke-width="0.45" />
<line x1="127" y1="570" x2="128.3" y2="570" stroke="#231f20" stroke-width="0.45" />
<line x1="127" y1="572" x2="128.3" y2="572" stroke="#231f20" stroke-width="0.45" />
<line x1="127" y1="578" x2="128.3" y2="578" stroke="#231f20" stroke-width="0.45" />
<line x1="127" y1="581" x2="128.3" y2="581" stroke="#231f20" stroke-width="0.45" />
<line x1="127" y1="583.5" x2="128.3" y2="583.5" stroke="#231f20" stroke-width="0.45" />
<line x1="127" y1="586" x2="128.3" y2="586" stroke="#231f20" stroke-width="0.45" />
<line x1="127" y1="588" x2="128.3" y2="588" stroke="#231f20" stroke-width="0.45" />
<line x1="127" y1="593" x2="128.3" y2="593" stroke="#231f20" stroke-width="0.45" />
<line x1="127" y1="596" x2="128.3" y2="596" stroke="#231f20" stroke-width="0.45" />
<line x1="127" y1="599" x2="128.3" y2="599" stroke="#231f20" stroke-width="0.45" />
<line x1="127" y1="602" x2="128.3" y2="602" stroke="#231f20" stroke-width="0.45" />
<line x1="127" y1="607" x2="128.3" y2="607" stroke="#231f20" stroke-width="0.45" />
<line x1="127" y1="610" x2="128.3" y2="610" stroke="#231f20" stroke-width="0.45" />
<line x1="127" y1="613" x2="128.3" y2="613" stroke="#231f20" stroke-width="0.45" />
<line x1="127" y1="616" x2="128.3" y2="616" stroke="#231f20" stroke-width="0.45" />
<text x="124" y="565.23" font-size="6.2" text-anchor="end" textLength="8.2" lengthAdjust="spacingAndGlyphs" fill="#444" stroke="#444" stroke-width="0.12">10<tspan dy="-2.48" font-size="4.22" stroke-width="0.1">6</tspan><tspan dy="2.48">​</tspan></text>
<text x="124" y="577.23" font-size="6.2" text-anchor="end" textLength="8.2" lengthAdjust="spacingAndGlyphs" fill="#444" stroke="#444" stroke-width="0.12">10<tspan dy="-2.48" font-size="4.22" stroke-width="0.1">5</tspan><tspan dy="2.48">​</tspan></text>
<text x="124" y="592.73" font-size="6.2" text-anchor="end" textLength="8.2" lengthAdjust="spacingAndGlyphs" fill="#444" stroke="#444" stroke-width="0.12">10<tspan dy="-2.48" font-size="4.22" stroke-width="0.1">4</tspan><tspan dy="2.48">​</tspan></text>
<text x="124" y="606.73" font-size="6.2" text-anchor="end" fill="#444" stroke="#444" stroke-width="0.12">0</text>
<text x="124" y="621.73" font-size="6.2" text-anchor="end" textLength="11" lengthAdjust="spacingAndGlyphs" fill="#444" stroke="#444" stroke-width="0.12">–10<tspan dy="-2.48" font-size="4.22" stroke-width="0.1">4</tspan><tspan dy="2.48">​</tspan></text>
<line x1="139.3" y1="623" x2="139.3" y2="625.4" stroke="#231f20" stroke-width="0.7" />
<line x1="162.1" y1="623" x2="162.1" y2="625.4" stroke="#231f20" stroke-width="0.7" />
<line x1="183.1" y1="623" x2="183.1" y2="625.4" stroke="#231f20" stroke-width="0.7" />
<line x1="133.8" y1="623" x2="133.8" y2="624.3" stroke="#231f20" stroke-width="0.45" />
<line x1="144.8" y1="623" x2="144.8" y2="624.3" stroke="#231f20" stroke-width="0.45" />
<line x1="150.6" y1="623" x2="150.6" y2="624.3" stroke="#231f20" stroke-width="0.45" />
<line x1="156.3" y1="623" x2="156.3" y2="624.3" stroke="#231f20" stroke-width="0.45" />
<line x1="167.8" y1="623" x2="167.8" y2="624.3" stroke="#231f20" stroke-width="0.45" />
<line x1="173.3" y1="623" x2="173.3" y2="624.3" stroke="#231f20" stroke-width="0.45" />
<line x1="178.8" y1="623" x2="178.8" y2="624.3" stroke="#231f20" stroke-width="0.45" />
<line x1="188.8" y1="623" x2="188.8" y2="624.3" stroke="#231f20" stroke-width="0.45" />
<line x1="194.3" y1="623" x2="194.3" y2="624.3" stroke="#231f20" stroke-width="0.45" />
<text x="139.3" y="632.23" font-size="6.2" text-anchor="middle" fill="#444" stroke="#444" stroke-width="0.12">0</text>
<text x="162.1" y="632.23" font-size="6.2" text-anchor="middle" textLength="10" lengthAdjust="spacingAndGlyphs" fill="#444" stroke="#444" stroke-width="0.12">10K</text>
<text x="183.1" y="632.23" font-size="6.2" text-anchor="middle" textLength="10" lengthAdjust="spacingAndGlyphs" fill="#444" stroke="#444" stroke-width="0.12">20K</text>
<rect x="136.7" y="562.9" width="19.8" height="23.6" fill="none" stroke="#8a8a8a" stroke-width="0.8" />
<rect x="156.5" y="562.9" width="28" height="23.6" fill="none" stroke="#8a8a8a" stroke-width="0.8" />
<rect x="136.7" y="586.5" width="19.8" height="24.3" fill="none" stroke="#8a8a8a" stroke-width="0.8" />
<clipPath id="k2c"><path d="M143.9,584 C144,580 146,577.5 149,577 L155.8,576.6 L159.5,576.2 L163.4,575.9 L167.5,576.6 L171.8,578 L172.7,580.6 L169.3,581.8 L168,584 L166.8,586.1 L165.5,588.5 L166.8,590.3 L165.3,592.3 L165.1,596.2 L160.8,597.1 L157.5,600 L153.2,603.4 L147.3,603.8 L144.8,601.3 L143.9,596 Z"/></clipPath>
<path d="M143.9,584 C144,580 146,577.5 149,577 L155.8,576.6 L159.5,576.2 L163.4,575.9 L167.5,576.6 L171.8,578 L172.7,580.6 L169.3,581.8 L168,584 L166.8,586.1 L165.5,588.5 L166.8,590.3 L165.3,592.3 L165.1,596.2 L160.8,597.1 L157.5,600 L153.2,603.4 L147.3,603.8 L144.8,601.3 L143.9,596 Z" fill="#13379f"/>
<g clip-path="url(#k2c)"><g filter="url(#sb)">
<path d="M146.5,580.5 L156,579 L162,578.8 L167.5,579.8 L164.5,584.5 L162.5,590 L161,594.5 L156.5,597.8 L152,600.8 L147.5,600.5 L146,592 Z" fill="#1f60d4"/>
<ellipse cx="151.6" cy="588.6" rx="6.6" ry="9.6" fill="#2ec4ee"/>
<ellipse cx="162" cy="581" rx="4.5" ry="2.5" fill="#3a9ee0"/>
</g></g>
<ellipse cx="150" cy="589" rx="5.4" ry="8.8" fill="#45bb2c"/>
<ellipse cx="149.8" cy="586.4" rx="3.2" ry="3.3" fill="#f3e300"/>
<ellipse cx="149.8" cy="586.3" rx="2.4" ry="2.5" fill="#f89a10"/>
<ellipse cx="149.8" cy="586.2" rx="1.9" ry="2" fill="#f01414"/>
<path d="M165.1,601.5 C166,599.8 169,599.6 172,599.8 L176.5,599.6 C179,599.8 179.3,602 178.5,603.6 C177,605 173,604.8 170,604.9 L167,604.7 C165.2,604.2 164.8,602.8 165.1,601.5 Z" fill="#13379f"/>
<ellipse cx="171.8" cy="602.2" rx="4.8" ry="1.3" fill="#2a58c0"/>
<line x1="136.7" y1="586.5" x2="156.5" y2="586.5" stroke="#333" stroke-width="1.1" />
<line x1="156.5" y1="562.9" x2="156.5" y2="610.8" stroke="#333" stroke-width="1.1" />
<text x="146.1" y="571.29" font-size="7.2" text-anchor="middle" textLength="14" lengthAdjust="spacingAndGlyphs" fill="#333" stroke="#333" stroke-width="0.12">39%</text>
<text x="169.5" y="571.29" font-size="7.2" text-anchor="middle" textLength="13.3" lengthAdjust="spacingAndGlyphs" fill="#333" stroke="#333" stroke-width="0.12">10%</text>
<text x="146.9" y="618.89" font-size="7.2" text-anchor="middle" textLength="13.7" lengthAdjust="spacingAndGlyphs" fill="#333" stroke="#333" stroke-width="0.12">39%</text>
<rect x="128.3" y="550.8" width="72.7" height="72.2" fill="none" stroke="#231f20" stroke-width="1.25" />
<text x="74.85" y="643.93" font-size="9.8" text-anchor="middle" textLength="20.6" lengthAdjust="spacingAndGlyphs" fill="#333" stroke="#333" stroke-width="0.12">7-AAD</text>
<line x1="88.4" y1="640.6" x2="187.8" y2="640.6" stroke="#2a2a2a" stroke-width="1.2" />
<path d="M197.8,640.6 L187.3,643.6 L187.3,637.6 Z" fill="#2a2a2a"/>
<line x1="238.6" y1="556" x2="238.6" y2="630.9" stroke="#231f20" stroke-width="1.0" />
<line x1="238.1" y1="630.4" x2="328.1" y2="630.4" stroke="#231f20" stroke-width="1.0" />
<line x1="235.6" y1="556.5" x2="238.6" y2="556.5" stroke="#231f20" stroke-width="0.9" />
<text x="233.3" y="559.16" font-size="7.4" text-anchor="end" textLength="12.6" lengthAdjust="spacingAndGlyphs" fill="#333" stroke="#333" stroke-width="0.12">100</text>
<line x1="235.6" y1="571.28" x2="238.6" y2="571.28" stroke="#231f20" stroke-width="0.9" />
<text x="233.3" y="573.94" font-size="7.4" text-anchor="end" fill="#333" stroke="#333" stroke-width="0.12">80</text>
<line x1="235.6" y1="586.06" x2="238.6" y2="586.06" stroke="#231f20" stroke-width="0.9" />
<text x="233.3" y="588.72" font-size="7.4" text-anchor="end" fill="#333" stroke="#333" stroke-width="0.12">60</text>
<line x1="235.6" y1="600.84" x2="238.6" y2="600.84" stroke="#231f20" stroke-width="0.9" />
<text x="233.3" y="603.5" font-size="7.4" text-anchor="end" fill="#333" stroke="#333" stroke-width="0.12">40</text>
<line x1="235.6" y1="615.62" x2="238.6" y2="615.62" stroke="#231f20" stroke-width="0.9" />
<text x="233.3" y="618.28" font-size="7.4" text-anchor="end" fill="#333" stroke="#333" stroke-width="0.12">20</text>
<line x1="235.6" y1="630.4" x2="238.6" y2="630.4" stroke="#231f20" stroke-width="0.9" />
<text x="233.3" y="633.06" font-size="7.4" text-anchor="end" fill="#333" stroke="#333" stroke-width="0.12">0</text>
<text x="251.4" y="544.17" font-size="8.8" text-anchor="middle" textLength="23.6" lengthAdjust="spacingAndGlyphs" stroke="#231f20" stroke-width="0.06">Day 7</text>
<rect x="266.2" y="532.3" width="55.3" height="22" fill="none" stroke="#333" stroke-width="0.9" />
<circle cx="273.4" cy="539.2" r="2.2" fill="#d0112b"/>
<text x="278.3" y="541.83" font-size="7.3" textLength="39.6" lengthAdjust="spacingAndGlyphs" fill="#333" stroke="#333" stroke-width="0.12">Sdc2<tspan dy="-2.92" font-size="4.96" stroke-width="0.1">–</tspan><tspan dy="2.92">​</tspan> HSCs</text>
<circle cx="273.4" cy="548.8" r="2.2" fill="#17508c"/>
<text x="278.3" y="551.43" font-size="7.3" textLength="39.6" lengthAdjust="spacingAndGlyphs" fill="#333" stroke="#333" stroke-width="0.12">Sdc2<tspan dy="-2.92" font-size="4.96" stroke-width="0.1">+</tspan><tspan dy="2.92">​</tspan> HSCs</text>
<rect x="242.4" y="575.9" width="7.8" height="54.5" fill="#e2877c" stroke="#dc7468" stroke-width="0.5" />
<rect x="254" y="600.6" width="8.3" height="29.8" fill="#8b97c2" stroke="#7483b3" stroke-width="0.5" />
<rect x="273.3" y="624.8" width="8.2" height="5.6" fill="#e2877c" stroke="#dc7468" stroke-width="0.5" />
<rect x="285.8" y="600.1" width="7.3" height="30.3" fill="#8b97c2" stroke="#7483b3" stroke-width="0.5" />
<rect x="305" y="629.3" width="7.7" height="1.1" fill="#e2877c" stroke="#dc7468" stroke-width="0.5" />
<rect x="316.5" y="624.6" width="7.7" height="5.8" fill="#8b97c2" stroke="#7483b3" stroke-width="0.5" />
<circle cx="246.4" cy="565.8" r="2.3" fill="#d0112b"/>
<circle cx="246.4" cy="579.3" r="2.3" fill="#d0112b"/>
<circle cx="246.4" cy="583.1" r="2.3" fill="#d0112b"/>
<circle cx="275.6" cy="621.7" r="2.3" fill="#d0112b"/>
<circle cx="280" cy="624.2" r="2.3" fill="#d0112b"/>
<circle cx="275.6" cy="626.5" r="2.3" fill="#d0112b"/>
<circle cx="306.5" cy="630.2" r="2.3" fill="#d0112b"/>
<circle cx="308.8" cy="629.4" r="2.3" fill="#d0112b"/>
<circle cx="310.8" cy="630.2" r="2.3" fill="#d0112b"/>
<circle cx="258.3" cy="597.2" r="2.3" fill="#17508c"/>
<circle cx="256" cy="601.8" r="2.3" fill="#17508c"/>
<circle cx="260.6" cy="601.3" r="2.3" fill="#17508c"/>
<circle cx="289.6" cy="592.3" r="2.3" fill="#17508c"/>
<circle cx="289.6" cy="602.5" r="2.3" fill="#17508c"/>
<circle cx="289.6" cy="607.7" r="2.3" fill="#17508c"/>
<circle cx="318.5" cy="622.3" r="2.3" fill="#17508c"/>
<circle cx="322.7" cy="623.7" r="2.3" fill="#17508c"/>
<circle cx="320.4" cy="629.2" r="2.3" fill="#17508c"/>
<line x1="252.4" y1="630.4" x2="252.4" y2="633" stroke="#231f20" stroke-width="0.9" />
<line x1="283.4" y1="630.4" x2="283.4" y2="633" stroke="#231f20" stroke-width="0.9" />
<line x1="314.6" y1="630.4" x2="314.6" y2="633" stroke="#231f20" stroke-width="0.9" />
<path d="M246.4,559.4 L246.4,556.1 L258.6,556.1 L258.6,579" fill="none" stroke="#333" stroke-width="0.9"/>
<path d="M249,551.14 L249.41,551.97 L250.33,552.11 L249.67,552.76 L249.82,553.67 L249,553.24 L248.18,553.67 L248.33,552.76 L247.67,552.11 L248.59,551.97 Z" fill="#2a2a2a"/>
<path d="M252.55,551.14 L252.96,551.97 L253.88,552.11 L253.22,552.76 L253.37,553.67 L252.55,553.24 L251.73,553.67 L251.88,552.76 L251.22,552.11 L252.14,551.97 Z" fill="#2a2a2a"/>
<path d="M256.1,551.14 L256.51,551.97 L257.43,552.11 L256.77,552.76 L256.92,553.67 L256.1,553.24 L255.28,553.67 L255.43,552.76 L254.77,552.11 L255.69,551.97 Z" fill="#2a2a2a"/>
<path d="M277.7,605.4 L277.7,582.9 L289.6,582.9 L289.6,586.3" fill="none" stroke="#333" stroke-width="0.9"/>
<path d="M280.1,578.04 L280.51,578.87 L281.43,579.01 L280.77,579.66 L280.92,580.57 L280.1,580.14 L279.28,580.57 L279.43,579.66 L278.77,579.01 L279.69,578.87 Z" fill="#2a2a2a"/>
<path d="M283.65,578.04 L284.06,578.87 L284.98,579.01 L284.32,579.66 L284.47,580.57 L283.65,580.14 L282.83,580.57 L282.98,579.66 L282.32,579.01 L283.24,578.87 Z" fill="#2a2a2a"/>
<path d="M287.2,578.04 L287.61,578.87 L288.53,579.01 L287.87,579.66 L288.02,580.57 L287.2,580.14 L286.38,580.57 L286.53,579.66 L285.87,579.01 L286.79,578.87 Z" fill="#2a2a2a"/>
<text x="252.7" y="643.57" font-size="8.8" text-anchor="middle" fill="#333" stroke="#333" stroke-width="0.12">G<tspan dy="2.2" font-size="5.46">0</tspan><tspan dy="-2.2">​</tspan></text>
<text x="282.5" y="643.57" font-size="8.8" text-anchor="middle" fill="#333" stroke="#333" stroke-width="0.12">G<tspan dy="2.2" font-size="5.46">1</tspan><tspan dy="-2.2">​</tspan></text>
<text x="314.2" y="643.57" font-size="8.8" text-anchor="middle" textLength="21.5" lengthAdjust="spacingAndGlyphs" fill="#333" stroke="#333" stroke-width="0.12">G<tspan dy="2.2" font-size="5.46">2</tspan><tspan dy="-2.2">​</tspan>SM</text>
<text x="593.5" y="0" font-size="8.6" text-anchor="middle" textLength="40.3" lengthAdjust="spacingAndGlyphs" fill="#333" stroke="#333" stroke-width="0.12" transform="translate(215.8 593.5) rotate(-90) translate(-593.5 0)">% of 34<tspan dy="-3.44" font-size="5.85" stroke-width="0.1">–</tspan><tspan dy="3.44">​</tspan>KSL</text>
<text x="348.1" y="545.3" font-size="11.3" font-weight="bold">L</text>
<text x="396.8" y="543.73" font-size="8.7" text-anchor="middle" textLength="24.4" lengthAdjust="spacingAndGlyphs" stroke="#231f20" stroke-width="0.06">Day 7</text>
<line x1="387.8" y1="556.6" x2="387.8" y2="625.7" stroke="#231f20" stroke-width="1.0" />
<line x1="387.3" y1="625.2" x2="420.7" y2="625.2" stroke="#231f20" stroke-width="1.0" />
<line x1="384.8" y1="557.1" x2="387.8" y2="557.1" stroke="#231f20" stroke-width="0.9" />
<text x="382" y="559.76" font-size="7.4" text-anchor="end" fill="#333" stroke="#333" stroke-width="0.12">1.5</text>
<line x1="384.8" y1="579.8" x2="387.8" y2="579.8" stroke="#231f20" stroke-width="0.9" />
<text x="382" y="582.46" font-size="7.4" text-anchor="end" fill="#333" stroke="#333" stroke-width="0.12">1.0</text>
<line x1="384.8" y1="602.5" x2="387.8" y2="602.5" stroke="#231f20" stroke-width="0.9" />
<text x="382" y="605.16" font-size="7.4" text-anchor="end" fill="#333" stroke="#333" stroke-width="0.12">0.5</text>
<line x1="384.8" y1="625.2" x2="387.8" y2="625.2" stroke="#231f20" stroke-width="0.9" />
<text x="382" y="627.86" font-size="7.4" text-anchor="end" fill="#333" stroke="#333" stroke-width="0.12">0.0</text>
<rect x="392.3" y="610" width="9.5" height="15.2" fill="#e2877c" stroke="#dc7468" stroke-width="0.5" />
<rect x="406.8" y="587.1" width="9" height="38.1" fill="#8b97c2" stroke="#7483b3" stroke-width="0.5" />
<circle cx="397.1" cy="602.4" r="2.3" fill="#d0112b"/>
<circle cx="394.3" cy="612.8" r="2.3" fill="#d0112b"/>
<circle cx="399.6" cy="612.8" r="2.3" fill="#d0112b"/>
<circle cx="408.5" cy="581.7" r="2.3" fill="#17508c"/>
<circle cx="414" cy="584.8" r="2.3" fill="#17508c"/>
<circle cx="411" cy="593.4" r="2.3" fill="#17508c"/>
<line x1="396.9" y1="625.2" x2="396.9" y2="627.8" stroke="#231f20" stroke-width="0.9" />
<line x1="411.2" y1="625.2" x2="411.2" y2="627.8" stroke="#231f20" stroke-width="0.9" />
<path d="M397.3,598.9 L397.3,569.5 L411.7,569.5 L411.7,573.6" fill="none" stroke="#333" stroke-width="0.9"/>
<path d="M404.5,564.29 L404.99,565.29 L406.1,565.45 L405.3,566.23 L405.49,567.33 L404.5,566.81 L403.51,567.33 L403.7,566.23 L402.9,565.45 L404.01,565.29 Z" fill="#2a2a2a"/>
<text x="0" y="0" font-size="8.0" text-anchor="end" fill="#333" textLength="39" lengthAdjust="spacingAndGlyphs" transform="translate(400.6 632.0) rotate(-45)">Sdc2<tspan dy="-3.2" font-size="5.44" stroke-width="0.1">–</tspan><tspan dy="3.2">​</tspan> HSCs</text>
<text x="0" y="0" font-size="8.0" text-anchor="end" fill="#333" textLength="39" lengthAdjust="spacingAndGlyphs" transform="translate(415.0 632.0) rotate(-45)">Sdc2<tspan dy="-3.2" font-size="5.44" stroke-width="0.1">+</tspan><tspan dy="3.2">​</tspan> HSCs</text>
<text x="590.5" y="0" font-size="8.2" text-anchor="middle" textLength="66" lengthAdjust="spacingAndGlyphs" fill="#333" stroke="#333" stroke-width="0.12" transform="translate(364.25 590.5) rotate(-90) translate(-590.5 0)">% G<tspan dy="2.05" font-size="5.08">0</tspan><tspan dy="-2.05">​</tspan> 34<tspan dy="-3.28" font-size="5.58" stroke-width="0.1">–</tspan><tspan dy="3.28">​</tspan>KSL of total</text>
<rect x="0.5" y="0.5" width="519" height="670" fill="none" stroke="#111" stroke-width="1.4"/>
</svg>
</body></html>
